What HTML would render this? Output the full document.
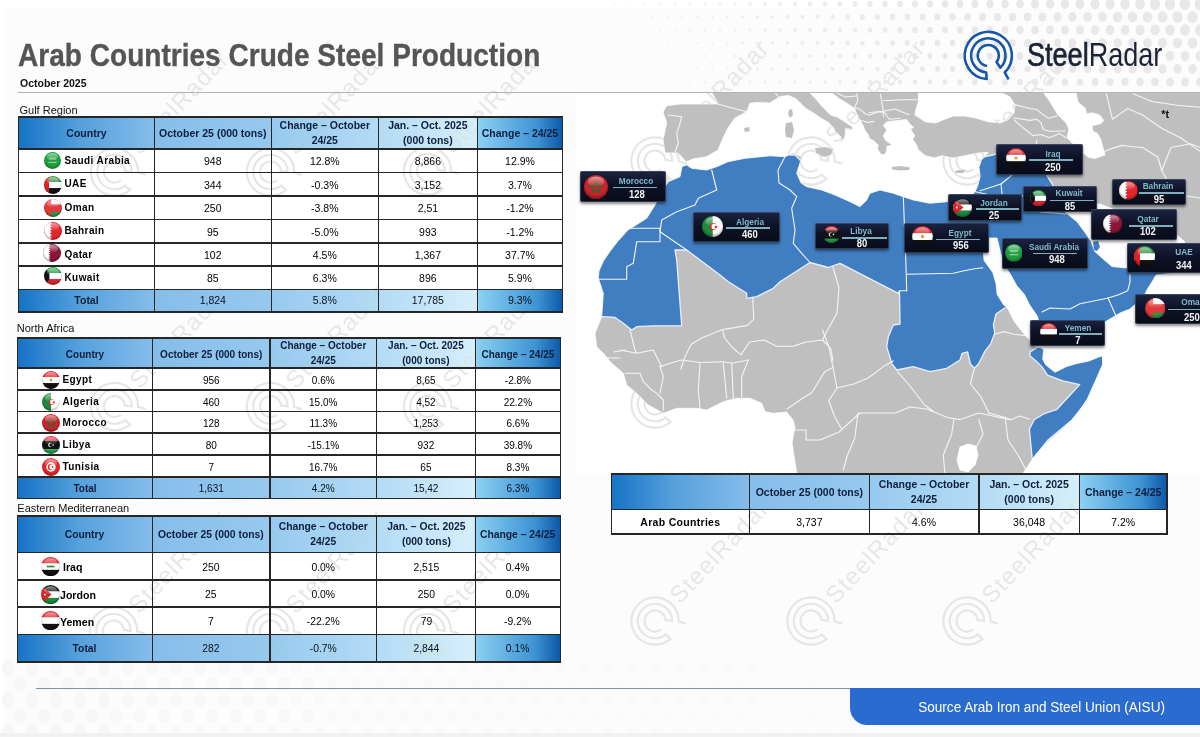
<!DOCTYPE html>
<html><head><meta charset="utf-8"><title>Arab Countries Crude Steel Production</title>
<style>
html,body{margin:0;padding:0}
body{width:1200px;height:737px;position:relative;overflow:hidden;background:#fff;font-family:"Liberation Sans", Arial, sans-serif}
.a{position:absolute}
.t{position:absolute;white-space:nowrap}
</style></head><body>
<svg width="0" height="0" style="position:absolute"><defs>
<radialGradient id="shade" cx="50%" cy="40%" r="60%"><stop offset="70%" stop-color="#000" stop-opacity="0"/><stop offset="100%" stop-color="#000" stop-opacity=".35"/></radialGradient>
<linearGradient id="gloss" x1="0" y1="0" x2="0" y2="1"><stop offset="0" stop-color="#fff" stop-opacity=".55"/><stop offset="1" stop-color="#fff" stop-opacity="0"/></linearGradient>
</defs></svg>
<div class="a" style="left:5px;top:8px;width:1195px;height:725px;background:#fcfcfc"></div>
<svg class="a" style="left:0;top:0;width:1200px;height:737px" viewBox="0 0 1200 737"><ellipse cx="570.0" cy="4.0" rx="0.63" ry="0.72" fill="#f6f6f6"/><ellipse cx="585.0" cy="4.0" rx="0.69" ry="0.80" fill="#f5f5f5"/><ellipse cx="600.0" cy="4.0" rx="0.77" ry="0.88" fill="#f5f5f5"/><ellipse cx="615.0" cy="4.0" rx="0.85" ry="0.98" fill="#f4f4f4"/><ellipse cx="630.0" cy="4.0" rx="0.94" ry="1.08" fill="#f4f4f4"/><ellipse cx="645.0" cy="4.0" rx="1.03" ry="1.18" fill="#f3f3f3"/><ellipse cx="660.0" cy="4.0" rx="1.12" ry="1.29" fill="#f2f2f2"/><ellipse cx="675.0" cy="4.0" rx="1.22" ry="1.40" fill="#f2f2f2"/><ellipse cx="690.0" cy="4.0" rx="1.32" ry="1.52" fill="#f1f1f1"/><ellipse cx="705.0" cy="4.0" rx="1.42" ry="1.64" fill="#f1f1f1"/><ellipse cx="720.0" cy="4.0" rx="1.53" ry="1.76" fill="#f0f0f0"/><ellipse cx="735.0" cy="4.0" rx="1.63" ry="1.88" fill="#f0f0f0"/><ellipse cx="750.0" cy="4.0" rx="1.74" ry="2.00" fill="#efefef"/><ellipse cx="765.0" cy="4.0" rx="1.85" ry="2.13" fill="#efefef"/><ellipse cx="780.0" cy="4.0" rx="1.96" ry="2.26" fill="#eeeeee"/><ellipse cx="795.0" cy="4.0" rx="2.08" ry="2.39" fill="#eeeeee"/><ellipse cx="810.0" cy="4.0" rx="2.19" ry="2.52" fill="#ededed"/><ellipse cx="825.0" cy="4.0" rx="2.31" ry="2.65" fill="#ededed"/><ellipse cx="840.0" cy="4.0" rx="2.42" ry="2.79" fill="#ececec"/><ellipse cx="855.0" cy="4.0" rx="2.54" ry="2.92" fill="#ececec"/><ellipse cx="870.0" cy="4.0" rx="2.66" ry="3.06" fill="#ebebeb"/><ellipse cx="885.0" cy="4.0" rx="2.78" ry="3.20" fill="#ebebeb"/><ellipse cx="900.0" cy="4.0" rx="2.90" ry="3.34" fill="#eaeaea"/><ellipse cx="915.0" cy="4.0" rx="3.03" ry="3.48" fill="#eaeaea"/><ellipse cx="930.0" cy="4.0" rx="3.15" ry="3.62" fill="#e9e9e9"/><ellipse cx="945.0" cy="4.0" rx="3.27" ry="3.76" fill="#e9e9e9"/><ellipse cx="960.0" cy="4.0" rx="3.40" ry="3.91" fill="#e8e8e8"/><ellipse cx="975.0" cy="4.0" rx="3.53" ry="4.06" fill="#e8e8e8"/><ellipse cx="990.0" cy="4.0" rx="3.65" ry="4.20" fill="#e8e8e8"/><ellipse cx="1005.0" cy="4.0" rx="3.78" ry="4.35" fill="#e8e8e8"/><ellipse cx="1020.0" cy="4.0" rx="3.91" ry="4.50" fill="#e8e8e8"/><ellipse cx="1035.0" cy="4.0" rx="4.04" ry="4.65" fill="#e8e8e8"/><ellipse cx="1050.0" cy="4.0" rx="4.17" ry="4.80" fill="#e8e8e8"/><ellipse cx="1065.0" cy="4.0" rx="4.31" ry="4.95" fill="#e8e8e8"/><ellipse cx="1080.0" cy="4.0" rx="4.44" ry="5.10" fill="#e8e8e8"/><ellipse cx="1095.0" cy="4.0" rx="4.57" ry="5.26" fill="#e8e8e8"/><ellipse cx="1110.0" cy="4.0" rx="4.71" ry="5.41" fill="#e8e8e8"/><ellipse cx="1125.0" cy="4.0" rx="4.84" ry="5.57" fill="#e8e8e8"/><ellipse cx="1140.0" cy="4.0" rx="4.98" ry="5.72" fill="#e8e8e8"/><ellipse cx="1155.0" cy="4.0" rx="5.11" ry="5.88" fill="#e8e8e8"/><ellipse cx="1170.0" cy="4.0" rx="5.25" ry="6.04" fill="#e8e8e8"/><ellipse cx="1185.0" cy="4.0" rx="5.39" ry="6.20" fill="#e8e8e8"/><ellipse cx="1200.0" cy="4.0" rx="5.53" ry="6.36" fill="#e8e8e8"/><ellipse cx="562.5" cy="17.0" rx="0.57" ry="0.66" fill="#f6f6f6"/><ellipse cx="577.5" cy="17.0" rx="0.63" ry="0.72" fill="#f5f5f5"/><ellipse cx="592.5" cy="17.0" rx="0.70" ry="0.80" fill="#f5f5f5"/><ellipse cx="607.5" cy="17.0" rx="0.78" ry="0.89" fill="#f4f4f4"/><ellipse cx="622.5" cy="17.0" rx="0.86" ry="0.98" fill="#f4f4f4"/><ellipse cx="637.5" cy="17.0" rx="0.94" ry="1.08" fill="#f3f3f3"/><ellipse cx="652.5" cy="17.0" rx="1.03" ry="1.18" fill="#f3f3f3"/><ellipse cx="667.5" cy="17.0" rx="1.12" ry="1.29" fill="#f2f2f2"/><ellipse cx="682.5" cy="17.0" rx="1.22" ry="1.40" fill="#f2f2f2"/><ellipse cx="697.5" cy="17.0" rx="1.31" ry="1.51" fill="#f1f1f1"/><ellipse cx="712.5" cy="17.0" rx="1.41" ry="1.62" fill="#f1f1f1"/><ellipse cx="727.5" cy="17.0" rx="1.51" ry="1.74" fill="#f0f0f0"/><ellipse cx="742.5" cy="17.0" rx="1.61" ry="1.86" fill="#f0f0f0"/><ellipse cx="757.5" cy="17.0" rx="1.72" ry="1.98" fill="#efefef"/><ellipse cx="772.5" cy="17.0" rx="1.82" ry="2.10" fill="#efefef"/><ellipse cx="787.5" cy="17.0" rx="1.93" ry="2.22" fill="#eeeeee"/><ellipse cx="802.5" cy="17.0" rx="2.04" ry="2.35" fill="#eeeeee"/><ellipse cx="817.5" cy="17.0" rx="2.15" ry="2.47" fill="#ededed"/><ellipse cx="832.5" cy="17.0" rx="2.26" ry="2.60" fill="#ececec"/><ellipse cx="847.5" cy="17.0" rx="2.37" ry="2.73" fill="#ececec"/><ellipse cx="862.5" cy="17.0" rx="2.49" ry="2.86" fill="#ebebeb"/><ellipse cx="877.5" cy="17.0" rx="2.60" ry="2.99" fill="#ebebeb"/><ellipse cx="892.5" cy="17.0" rx="2.72" ry="3.13" fill="#eaeaea"/><ellipse cx="907.5" cy="17.0" rx="2.84" ry="3.26" fill="#eaeaea"/><ellipse cx="922.5" cy="17.0" rx="2.95" ry="3.40" fill="#e9e9e9"/><ellipse cx="937.5" cy="17.0" rx="3.07" ry="3.53" fill="#e9e9e9"/><ellipse cx="952.5" cy="17.0" rx="3.19" ry="3.67" fill="#e8e8e8"/><ellipse cx="967.5" cy="17.0" rx="3.31" ry="3.81" fill="#e8e8e8"/><ellipse cx="982.5" cy="17.0" rx="3.44" ry="3.95" fill="#e8e8e8"/><ellipse cx="997.5" cy="17.0" rx="3.56" ry="4.09" fill="#e8e8e8"/><ellipse cx="1012.5" cy="17.0" rx="3.68" ry="4.23" fill="#e8e8e8"/><ellipse cx="1027.5" cy="17.0" rx="3.81" ry="4.38" fill="#e8e8e8"/><ellipse cx="1042.5" cy="17.0" rx="3.93" ry="4.52" fill="#e8e8e8"/><ellipse cx="1057.5" cy="17.0" rx="4.06" ry="4.67" fill="#e8e8e8"/><ellipse cx="1072.5" cy="17.0" rx="4.18" ry="4.81" fill="#e8e8e8"/><ellipse cx="1087.5" cy="17.0" rx="4.31" ry="4.96" fill="#e8e8e8"/><ellipse cx="1102.5" cy="17.0" rx="4.44" ry="5.11" fill="#e8e8e8"/><ellipse cx="1117.5" cy="17.0" rx="4.57" ry="5.25" fill="#e8e8e8"/><ellipse cx="1132.5" cy="17.0" rx="4.70" ry="5.40" fill="#e8e8e8"/><ellipse cx="1147.5" cy="17.0" rx="4.83" ry="5.55" fill="#e8e8e8"/><ellipse cx="1162.5" cy="17.0" rx="4.96" ry="5.70" fill="#e8e8e8"/><ellipse cx="1177.5" cy="17.0" rx="5.09" ry="5.85" fill="#e8e8e8"/><ellipse cx="1192.5" cy="17.0" rx="5.22" ry="6.01" fill="#e8e8e8"/><ellipse cx="570.0" cy="30.0" rx="0.57" ry="0.66" fill="#f6f6f6"/><ellipse cx="585.0" cy="30.0" rx="0.63" ry="0.73" fill="#f5f5f5"/><ellipse cx="600.0" cy="30.0" rx="0.70" ry="0.81" fill="#f5f5f5"/><ellipse cx="615.0" cy="30.0" rx="0.78" ry="0.90" fill="#f4f4f4"/><ellipse cx="630.0" cy="30.0" rx="0.86" ry="0.99" fill="#f4f4f4"/><ellipse cx="645.0" cy="30.0" rx="0.94" ry="1.08" fill="#f3f3f3"/><ellipse cx="660.0" cy="30.0" rx="1.03" ry="1.18" fill="#f2f2f2"/><ellipse cx="675.0" cy="30.0" rx="1.12" ry="1.28" fill="#f2f2f2"/><ellipse cx="690.0" cy="30.0" rx="1.21" ry="1.39" fill="#f1f1f1"/><ellipse cx="705.0" cy="30.0" rx="1.30" ry="1.50" fill="#f1f1f1"/><ellipse cx="720.0" cy="30.0" rx="1.40" ry="1.61" fill="#f0f0f0"/><ellipse cx="735.0" cy="30.0" rx="1.49" ry="1.72" fill="#f0f0f0"/><ellipse cx="750.0" cy="30.0" rx="1.59" ry="1.83" fill="#efefef"/><ellipse cx="765.0" cy="30.0" rx="1.69" ry="1.95" fill="#efefef"/><ellipse cx="780.0" cy="30.0" rx="1.79" ry="2.06" fill="#eeeeee"/><ellipse cx="795.0" cy="30.0" rx="1.90" ry="2.18" fill="#eeeeee"/><ellipse cx="810.0" cy="30.0" rx="2.00" ry="2.30" fill="#ededed"/><ellipse cx="825.0" cy="30.0" rx="2.11" ry="2.42" fill="#ededed"/><ellipse cx="840.0" cy="30.0" rx="2.21" ry="2.55" fill="#ececec"/><ellipse cx="855.0" cy="30.0" rx="2.32" ry="2.67" fill="#ececec"/><ellipse cx="870.0" cy="30.0" rx="2.43" ry="2.80" fill="#ebebeb"/><ellipse cx="885.0" cy="30.0" rx="2.54" ry="2.92" fill="#ebebeb"/><ellipse cx="900.0" cy="30.0" rx="2.65" ry="3.05" fill="#eaeaea"/><ellipse cx="915.0" cy="30.0" rx="2.77" ry="3.18" fill="#eaeaea"/><ellipse cx="930.0" cy="30.0" rx="2.88" ry="3.31" fill="#e9e9e9"/><ellipse cx="945.0" cy="30.0" rx="2.99" ry="3.44" fill="#e9e9e9"/><ellipse cx="960.0" cy="30.0" rx="3.11" ry="3.57" fill="#e8e8e8"/><ellipse cx="975.0" cy="30.0" rx="3.22" ry="3.71" fill="#e8e8e8"/><ellipse cx="990.0" cy="30.0" rx="3.34" ry="3.84" fill="#e8e8e8"/><ellipse cx="1005.0" cy="30.0" rx="3.46" ry="3.98" fill="#e8e8e8"/><ellipse cx="1020.0" cy="30.0" rx="3.58" ry="4.11" fill="#e8e8e8"/><ellipse cx="1035.0" cy="30.0" rx="3.70" ry="4.25" fill="#e8e8e8"/><ellipse cx="1050.0" cy="30.0" rx="3.82" ry="4.39" fill="#e8e8e8"/><ellipse cx="1065.0" cy="30.0" rx="3.94" ry="4.53" fill="#e8e8e8"/><ellipse cx="1080.0" cy="30.0" rx="4.06" ry="4.67" fill="#e8e8e8"/><ellipse cx="1095.0" cy="30.0" rx="4.18" ry="4.81" fill="#e8e8e8"/><ellipse cx="1110.0" cy="30.0" rx="4.30" ry="4.95" fill="#e8e8e8"/><ellipse cx="1125.0" cy="30.0" rx="4.43" ry="5.09" fill="#e8e8e8"/><ellipse cx="1140.0" cy="30.0" rx="4.55" ry="5.23" fill="#e8e8e8"/><ellipse cx="1155.0" cy="30.0" rx="4.67" ry="5.38" fill="#e8e8e8"/><ellipse cx="1170.0" cy="30.0" rx="4.80" ry="5.52" fill="#e8e8e8"/><ellipse cx="1185.0" cy="30.0" rx="4.93" ry="5.66" fill="#e8e8e8"/><ellipse cx="1200.0" cy="30.0" rx="5.05" ry="5.81" fill="#e8e8e8"/><ellipse cx="562.5" cy="43.0" rx="0.52" ry="0.60" fill="#f6f6f6"/><ellipse cx="577.5" cy="43.0" rx="0.57" ry="0.66" fill="#f5f5f5"/><ellipse cx="592.5" cy="43.0" rx="0.64" ry="0.73" fill="#f5f5f5"/><ellipse cx="607.5" cy="43.0" rx="0.71" ry="0.81" fill="#f4f4f4"/><ellipse cx="622.5" cy="43.0" rx="0.78" ry="0.90" fill="#f4f4f4"/><ellipse cx="637.5" cy="43.0" rx="0.86" ry="0.99" fill="#f3f3f3"/><ellipse cx="652.5" cy="43.0" rx="0.94" ry="1.08" fill="#f3f3f3"/><ellipse cx="667.5" cy="43.0" rx="1.02" ry="1.17" fill="#f2f2f2"/><ellipse cx="682.5" cy="43.0" rx="1.11" ry="1.27" fill="#f2f2f2"/><ellipse cx="697.5" cy="43.0" rx="1.19" ry="1.37" fill="#f1f1f1"/><ellipse cx="712.5" cy="43.0" rx="1.28" ry="1.48" fill="#f1f1f1"/><ellipse cx="727.5" cy="43.0" rx="1.38" ry="1.58" fill="#f0f0f0"/><ellipse cx="742.5" cy="43.0" rx="1.47" ry="1.69" fill="#f0f0f0"/><ellipse cx="757.5" cy="43.0" rx="1.56" ry="1.80" fill="#efefef"/><ellipse cx="772.5" cy="43.0" rx="1.66" ry="1.91" fill="#efefef"/><ellipse cx="787.5" cy="43.0" rx="1.76" ry="2.02" fill="#eeeeee"/><ellipse cx="802.5" cy="43.0" rx="1.86" ry="2.14" fill="#eeeeee"/><ellipse cx="817.5" cy="43.0" rx="1.96" ry="2.25" fill="#ededed"/><ellipse cx="832.5" cy="43.0" rx="2.06" ry="2.37" fill="#ececec"/><ellipse cx="847.5" cy="43.0" rx="2.16" ry="2.49" fill="#ececec"/><ellipse cx="862.5" cy="43.0" rx="2.26" ry="2.60" fill="#ebebeb"/><ellipse cx="877.5" cy="43.0" rx="2.37" ry="2.72" fill="#ebebeb"/><ellipse cx="892.5" cy="43.0" rx="2.48" ry="2.85" fill="#eaeaea"/><ellipse cx="907.5" cy="43.0" rx="2.58" ry="2.97" fill="#eaeaea"/><ellipse cx="922.5" cy="43.0" rx="2.69" ry="3.09" fill="#e9e9e9"/><ellipse cx="937.5" cy="43.0" rx="2.80" ry="3.22" fill="#e9e9e9"/><ellipse cx="952.5" cy="43.0" rx="2.91" ry="3.34" fill="#e8e8e8"/><ellipse cx="967.5" cy="43.0" rx="3.02" ry="3.47" fill="#e8e8e8"/><ellipse cx="982.5" cy="43.0" rx="3.13" ry="3.60" fill="#e8e8e8"/><ellipse cx="997.5" cy="43.0" rx="3.24" ry="3.73" fill="#e8e8e8"/><ellipse cx="1012.5" cy="43.0" rx="3.35" ry="3.85" fill="#e8e8e8"/><ellipse cx="1027.5" cy="43.0" rx="3.46" ry="3.98" fill="#e8e8e8"/><ellipse cx="1042.5" cy="43.0" rx="3.58" ry="4.12" fill="#e8e8e8"/><ellipse cx="1057.5" cy="43.0" rx="3.69" ry="4.25" fill="#e8e8e8"/><ellipse cx="1072.5" cy="43.0" rx="3.81" ry="4.38" fill="#e8e8e8"/><ellipse cx="1087.5" cy="43.0" rx="3.92" ry="4.51" fill="#e8e8e8"/><ellipse cx="1102.5" cy="43.0" rx="4.04" ry="4.65" fill="#e8e8e8"/><ellipse cx="1117.5" cy="43.0" rx="4.16" ry="4.78" fill="#e8e8e8"/><ellipse cx="1132.5" cy="43.0" rx="4.28" ry="4.92" fill="#e8e8e8"/><ellipse cx="1147.5" cy="43.0" rx="4.40" ry="5.05" fill="#e8e8e8"/><ellipse cx="1162.5" cy="43.0" rx="4.51" ry="5.19" fill="#e8e8e8"/><ellipse cx="1177.5" cy="43.0" rx="4.63" ry="5.33" fill="#e8e8e8"/><ellipse cx="1192.5" cy="43.0" rx="4.75" ry="5.47" fill="#e8e8e8"/><ellipse cx="570.0" cy="56.0" rx="0.52" ry="0.60" fill="#f6f6f6"/><ellipse cx="585.0" cy="56.0" rx="0.57" ry="0.66" fill="#f5f5f5"/><ellipse cx="600.0" cy="56.0" rx="0.64" ry="0.73" fill="#f5f5f5"/><ellipse cx="615.0" cy="56.0" rx="0.71" ry="0.81" fill="#f4f4f4"/><ellipse cx="630.0" cy="56.0" rx="0.78" ry="0.89" fill="#f4f4f4"/><ellipse cx="645.0" cy="56.0" rx="0.85" ry="0.98" fill="#f3f3f3"/><ellipse cx="660.0" cy="56.0" rx="0.93" ry="1.07" fill="#f2f2f2"/><ellipse cx="675.0" cy="56.0" rx="1.01" ry="1.16" fill="#f2f2f2"/><ellipse cx="690.0" cy="56.0" rx="1.09" ry="1.26" fill="#f1f1f1"/><ellipse cx="705.0" cy="56.0" rx="1.18" ry="1.36" fill="#f1f1f1"/><ellipse cx="720.0" cy="56.0" rx="1.26" ry="1.45" fill="#f0f0f0"/><ellipse cx="735.0" cy="56.0" rx="1.35" ry="1.56" fill="#f0f0f0"/><ellipse cx="750.0" cy="56.0" rx="1.44" ry="1.66" fill="#efefef"/><ellipse cx="765.0" cy="56.0" rx="1.53" ry="1.76" fill="#efefef"/><ellipse cx="780.0" cy="56.0" rx="1.63" ry="1.87" fill="#eeeeee"/><ellipse cx="795.0" cy="56.0" rx="1.72" ry="1.98" fill="#eeeeee"/><ellipse cx="810.0" cy="56.0" rx="1.81" ry="2.09" fill="#ededed"/><ellipse cx="825.0" cy="56.0" rx="1.91" ry="2.20" fill="#ededed"/><ellipse cx="840.0" cy="56.0" rx="2.01" ry="2.31" fill="#ececec"/><ellipse cx="855.0" cy="56.0" rx="2.10" ry="2.42" fill="#ececec"/><ellipse cx="870.0" cy="56.0" rx="2.20" ry="2.53" fill="#ebebeb"/><ellipse cx="885.0" cy="56.0" rx="2.30" ry="2.65" fill="#ebebeb"/><ellipse cx="900.0" cy="56.0" rx="2.40" ry="2.76" fill="#eaeaea"/><ellipse cx="915.0" cy="56.0" rx="2.51" ry="2.88" fill="#eaeaea"/><ellipse cx="930.0" cy="56.0" rx="2.61" ry="3.00" fill="#e9e9e9"/><ellipse cx="945.0" cy="56.0" rx="2.71" ry="3.12" fill="#e9e9e9"/><ellipse cx="960.0" cy="56.0" rx="2.82" ry="3.24" fill="#e8e8e8"/><ellipse cx="975.0" cy="56.0" rx="2.92" ry="3.36" fill="#e8e8e8"/><ellipse cx="990.0" cy="56.0" rx="3.03" ry="3.48" fill="#e8e8e8"/><ellipse cx="1005.0" cy="56.0" rx="3.13" ry="3.60" fill="#e8e8e8"/><ellipse cx="1020.0" cy="56.0" rx="3.24" ry="3.73" fill="#e8e8e8"/><ellipse cx="1035.0" cy="56.0" rx="3.35" ry="3.85" fill="#e8e8e8"/><ellipse cx="1050.0" cy="56.0" rx="3.46" ry="3.98" fill="#e8e8e8"/><ellipse cx="1065.0" cy="56.0" rx="3.57" ry="4.10" fill="#e8e8e8"/><ellipse cx="1080.0" cy="56.0" rx="3.68" ry="4.23" fill="#e8e8e8"/><ellipse cx="1095.0" cy="56.0" rx="3.79" ry="4.35" fill="#e8e8e8"/><ellipse cx="1110.0" cy="56.0" rx="3.90" ry="4.48" fill="#e8e8e8"/><ellipse cx="1125.0" cy="56.0" rx="4.01" ry="4.61" fill="#e8e8e8"/><ellipse cx="1140.0" cy="56.0" rx="4.12" ry="4.74" fill="#e8e8e8"/><ellipse cx="1155.0" cy="56.0" rx="4.24" ry="4.87" fill="#e8e8e8"/><ellipse cx="1170.0" cy="56.0" rx="4.35" ry="5.00" fill="#e8e8e8"/><ellipse cx="1185.0" cy="56.0" rx="4.46" ry="5.13" fill="#e8e8e8"/><ellipse cx="1200.0" cy="56.0" rx="4.58" ry="5.26" fill="#e8e8e8"/><ellipse cx="577.5" cy="69.0" rx="0.52" ry="0.59" fill="#f5f5f5"/><ellipse cx="592.5" cy="69.0" rx="0.57" ry="0.66" fill="#f5f5f5"/><ellipse cx="607.5" cy="69.0" rx="0.64" ry="0.73" fill="#f4f4f4"/><ellipse cx="622.5" cy="69.0" rx="0.70" ry="0.81" fill="#f4f4f4"/><ellipse cx="637.5" cy="69.0" rx="0.77" ry="0.89" fill="#f3f3f3"/><ellipse cx="652.5" cy="69.0" rx="0.85" ry="0.97" fill="#f3f3f3"/><ellipse cx="667.5" cy="69.0" rx="0.92" ry="1.06" fill="#f2f2f2"/><ellipse cx="682.5" cy="69.0" rx="1.00" ry="1.15" fill="#f2f2f2"/><ellipse cx="697.5" cy="69.0" rx="1.08" ry="1.24" fill="#f1f1f1"/><ellipse cx="712.5" cy="69.0" rx="1.16" ry="1.33" fill="#f1f1f1"/><ellipse cx="727.5" cy="69.0" rx="1.24" ry="1.43" fill="#f0f0f0"/><ellipse cx="742.5" cy="69.0" rx="1.32" ry="1.52" fill="#f0f0f0"/><ellipse cx="757.5" cy="69.0" rx="1.41" ry="1.62" fill="#efefef"/><ellipse cx="772.5" cy="69.0" rx="1.50" ry="1.72" fill="#efefef"/><ellipse cx="787.5" cy="69.0" rx="1.59" ry="1.82" fill="#eeeeee"/><ellipse cx="802.5" cy="69.0" rx="1.67" ry="1.93" fill="#eeeeee"/><ellipse cx="817.5" cy="69.0" rx="1.76" ry="2.03" fill="#ededed"/><ellipse cx="832.5" cy="69.0" rx="1.86" ry="2.13" fill="#ececec"/><ellipse cx="847.5" cy="69.0" rx="1.95" ry="2.24" fill="#ececec"/><ellipse cx="862.5" cy="69.0" rx="2.04" ry="2.35" fill="#ebebeb"/><ellipse cx="877.5" cy="69.0" rx="2.14" ry="2.46" fill="#ebebeb"/><ellipse cx="892.5" cy="69.0" rx="2.23" ry="2.57" fill="#eaeaea"/><ellipse cx="907.5" cy="69.0" rx="2.33" ry="2.68" fill="#eaeaea"/><ellipse cx="922.5" cy="69.0" rx="2.42" ry="2.79" fill="#e9e9e9"/><ellipse cx="937.5" cy="69.0" rx="2.52" ry="2.90" fill="#e9e9e9"/><ellipse cx="952.5" cy="69.0" rx="2.62" ry="3.01" fill="#e8e8e8"/><ellipse cx="967.5" cy="69.0" rx="2.72" ry="3.13" fill="#e8e8e8"/><ellipse cx="982.5" cy="69.0" rx="2.82" ry="3.24" fill="#e8e8e8"/><ellipse cx="997.5" cy="69.0" rx="2.92" ry="3.36" fill="#e8e8e8"/><ellipse cx="1012.5" cy="69.0" rx="3.02" ry="3.47" fill="#e8e8e8"/><ellipse cx="1027.5" cy="69.0" rx="3.12" ry="3.59" fill="#e8e8e8"/><ellipse cx="1042.5" cy="69.0" rx="3.23" ry="3.71" fill="#e8e8e8"/><ellipse cx="1057.5" cy="69.0" rx="3.33" ry="3.83" fill="#e8e8e8"/><ellipse cx="1072.5" cy="69.0" rx="3.43" ry="3.95" fill="#e8e8e8"/><ellipse cx="1087.5" cy="69.0" rx="3.54" ry="4.07" fill="#e8e8e8"/><ellipse cx="1102.5" cy="69.0" rx="3.64" ry="4.19" fill="#e8e8e8"/><ellipse cx="1117.5" cy="69.0" rx="3.75" ry="4.31" fill="#e8e8e8"/><ellipse cx="1132.5" cy="69.0" rx="3.85" ry="4.43" fill="#e8e8e8"/><ellipse cx="1147.5" cy="69.0" rx="3.96" ry="4.56" fill="#e8e8e8"/><ellipse cx="1162.5" cy="69.0" rx="4.07" ry="4.68" fill="#e8e8e8"/><ellipse cx="1177.5" cy="69.0" rx="4.18" ry="4.80" fill="#e8e8e8"/><ellipse cx="1192.5" cy="69.0" rx="4.29" ry="4.93" fill="#e8e8e8"/><ellipse cx="585.0" cy="82.0" rx="0.51" ry="0.59" fill="#f5f5f5"/><ellipse cx="600.0" cy="82.0" rx="0.57" ry="0.66" fill="#f5f5f5"/><ellipse cx="615.0" cy="82.0" rx="0.63" ry="0.73" fill="#f4f4f4"/><ellipse cx="630.0" cy="82.0" rx="0.70" ry="0.80" fill="#f4f4f4"/><ellipse cx="645.0" cy="82.0" rx="0.76" ry="0.88" fill="#f3f3f3"/><ellipse cx="660.0" cy="82.0" rx="0.83" ry="0.96" fill="#f2f2f2"/><ellipse cx="675.0" cy="82.0" rx="0.91" ry="1.04" fill="#f2f2f2"/><ellipse cx="690.0" cy="82.0" rx="0.98" ry="1.13" fill="#f1f1f1"/><ellipse cx="705.0" cy="82.0" rx="1.06" ry="1.21" fill="#f1f1f1"/><ellipse cx="720.0" cy="82.0" rx="1.13" ry="1.30" fill="#f0f0f0"/><ellipse cx="735.0" cy="82.0" rx="1.21" ry="1.39" fill="#f0f0f0"/><ellipse cx="750.0" cy="82.0" rx="1.29" ry="1.49" fill="#efefef"/><ellipse cx="765.0" cy="82.0" rx="1.37" ry="1.58" fill="#efefef"/><ellipse cx="780.0" cy="82.0" rx="1.46" ry="1.68" fill="#eeeeee"/><ellipse cx="795.0" cy="82.0" rx="1.54" ry="1.77" fill="#eeeeee"/><ellipse cx="810.0" cy="82.0" rx="1.63" ry="1.87" fill="#ededed"/><ellipse cx="825.0" cy="82.0" rx="1.71" ry="1.97" fill="#ededed"/><ellipse cx="840.0" cy="82.0" rx="1.80" ry="2.07" fill="#ececec"/><ellipse cx="855.0" cy="82.0" rx="1.89" ry="2.17" fill="#ececec"/><ellipse cx="870.0" cy="82.0" rx="1.97" ry="2.27" fill="#ebebeb"/><ellipse cx="885.0" cy="82.0" rx="2.06" ry="2.37" fill="#ebebeb"/><ellipse cx="900.0" cy="82.0" rx="2.15" ry="2.48" fill="#eaeaea"/><ellipse cx="915.0" cy="82.0" rx="2.25" ry="2.58" fill="#eaeaea"/><ellipse cx="930.0" cy="82.0" rx="2.34" ry="2.69" fill="#e9e9e9"/><ellipse cx="945.0" cy="82.0" rx="2.43" ry="2.79" fill="#e9e9e9"/><ellipse cx="960.0" cy="82.0" rx="2.52" ry="2.90" fill="#e8e8e8"/><ellipse cx="975.0" cy="82.0" rx="2.62" ry="3.01" fill="#e8e8e8"/><ellipse cx="990.0" cy="82.0" rx="2.71" ry="3.12" fill="#e8e8e8"/><ellipse cx="1005.0" cy="82.0" rx="2.81" ry="3.23" fill="#e8e8e8"/><ellipse cx="1020.0" cy="82.0" rx="2.90" ry="3.34" fill="#e8e8e8"/><ellipse cx="1035.0" cy="82.0" rx="3.00" ry="3.45" fill="#e8e8e8"/><ellipse cx="1050.0" cy="82.0" rx="3.10" ry="3.56" fill="#e8e8e8"/><ellipse cx="1065.0" cy="82.0" rx="3.20" ry="3.68" fill="#e8e8e8"/><ellipse cx="1080.0" cy="82.0" rx="3.29" ry="3.79" fill="#e8e8e8"/><ellipse cx="1095.0" cy="82.0" rx="3.39" ry="3.90" fill="#e8e8e8"/><ellipse cx="1110.0" cy="82.0" rx="3.49" ry="4.02" fill="#e8e8e8"/><ellipse cx="1125.0" cy="82.0" rx="3.59" ry="4.13" fill="#e8e8e8"/><ellipse cx="1140.0" cy="82.0" rx="3.69" ry="4.25" fill="#e8e8e8"/><ellipse cx="1155.0" cy="82.0" rx="3.80" ry="4.37" fill="#e8e8e8"/><ellipse cx="1170.0" cy="82.0" rx="3.90" ry="4.48" fill="#e8e8e8"/><ellipse cx="1185.0" cy="82.0" rx="4.00" ry="4.60" fill="#e8e8e8"/><ellipse cx="1200.0" cy="82.0" rx="4.10" ry="4.72" fill="#e8e8e8"/><ellipse cx="8.0" cy="668.0" rx="6.47" ry="7.77" fill="#f7f7f7"/><ellipse cx="32.0" cy="668.0" rx="6.39" ry="7.67" fill="#f7f7f7"/><ellipse cx="56.0" cy="668.0" rx="6.30" ry="7.57" fill="#f7f7f7"/><ellipse cx="80.0" cy="668.0" rx="6.22" ry="7.47" fill="#f7f7f7"/><ellipse cx="104.0" cy="668.0" rx="6.14" ry="7.36" fill="#f7f7f7"/><ellipse cx="128.0" cy="668.0" rx="6.05" ry="7.26" fill="#f8f8f8"/><ellipse cx="152.0" cy="668.0" rx="5.97" ry="7.16" fill="#f8f8f8"/><ellipse cx="176.0" cy="668.0" rx="5.89" ry="7.06" fill="#f8f8f8"/><ellipse cx="200.0" cy="668.0" rx="5.80" ry="6.96" fill="#f8f8f8"/><ellipse cx="224.0" cy="668.0" rx="5.72" ry="6.86" fill="#f8f8f8"/><ellipse cx="248.0" cy="668.0" rx="5.63" ry="6.76" fill="#f8f8f8"/><ellipse cx="272.0" cy="668.0" rx="5.55" ry="6.66" fill="#f8f8f8"/><ellipse cx="296.0" cy="668.0" rx="5.47" ry="6.56" fill="#f8f8f8"/><ellipse cx="320.0" cy="668.0" rx="5.38" ry="6.46" fill="#f8f8f8"/><ellipse cx="344.0" cy="668.0" rx="5.30" ry="6.36" fill="#f9f9f9"/><ellipse cx="368.0" cy="668.0" rx="5.22" ry="6.26" fill="#f9f9f9"/><ellipse cx="392.0" cy="668.0" rx="5.13" ry="6.16" fill="#f9f9f9"/><ellipse cx="416.0" cy="668.0" rx="5.05" ry="6.06" fill="#f9f9f9"/><ellipse cx="440.0" cy="668.0" rx="4.97" ry="5.96" fill="#f9f9f9"/><ellipse cx="464.0" cy="668.0" rx="4.88" ry="5.86" fill="#f9f9f9"/><ellipse cx="488.0" cy="668.0" rx="4.80" ry="5.76" fill="#f9f9f9"/><ellipse cx="512.0" cy="668.0" rx="4.71" ry="5.66" fill="#f9f9f9"/><ellipse cx="536.0" cy="668.0" rx="4.63" ry="5.56" fill="#f9f9f9"/><ellipse cx="560.0" cy="668.0" rx="4.55" ry="5.46" fill="#fafafa"/><ellipse cx="584.0" cy="668.0" rx="4.46" ry="5.36" fill="#fafafa"/><ellipse cx="608.0" cy="668.0" rx="4.38" ry="5.25" fill="#fafafa"/><ellipse cx="632.0" cy="668.0" rx="4.30" ry="5.15" fill="#fafafa"/><ellipse cx="656.0" cy="668.0" rx="4.21" ry="5.05" fill="#fafafa"/><ellipse cx="680.0" cy="668.0" rx="4.13" ry="4.95" fill="#fafafa"/><ellipse cx="704.0" cy="668.0" rx="4.04" ry="4.85" fill="#fafafa"/><ellipse cx="728.0" cy="668.0" rx="3.96" ry="4.75" fill="#fafafa"/><ellipse cx="752.0" cy="668.0" rx="3.88" ry="4.65" fill="#fafafa"/><ellipse cx="776.0" cy="668.0" rx="3.79" ry="4.55" fill="#fbfbfb"/><ellipse cx="800.0" cy="668.0" rx="3.71" ry="4.45" fill="#fbfbfb"/><ellipse cx="824.0" cy="668.0" rx="3.63" ry="4.35" fill="#fbfbfb"/><ellipse cx="848.0" cy="668.0" rx="3.54" ry="4.25" fill="#fbfbfb"/><ellipse cx="20.0" cy="684.0" rx="6.43" ry="7.72" fill="#f7f7f7"/><ellipse cx="44.0" cy="684.0" rx="6.35" ry="7.62" fill="#f7f7f7"/><ellipse cx="68.0" cy="684.0" rx="6.26" ry="7.52" fill="#f7f7f7"/><ellipse cx="92.0" cy="684.0" rx="6.18" ry="7.41" fill="#f7f7f7"/><ellipse cx="116.0" cy="684.0" rx="6.10" ry="7.31" fill="#f8f8f8"/><ellipse cx="140.0" cy="684.0" rx="6.01" ry="7.21" fill="#f8f8f8"/><ellipse cx="164.0" cy="684.0" rx="5.93" ry="7.11" fill="#f8f8f8"/><ellipse cx="188.0" cy="684.0" rx="5.84" ry="7.01" fill="#f8f8f8"/><ellipse cx="212.0" cy="684.0" rx="5.76" ry="6.91" fill="#f8f8f8"/><ellipse cx="236.0" cy="684.0" rx="5.68" ry="6.81" fill="#f8f8f8"/><ellipse cx="260.0" cy="684.0" rx="5.59" ry="6.71" fill="#f8f8f8"/><ellipse cx="284.0" cy="684.0" rx="5.51" ry="6.61" fill="#f8f8f8"/><ellipse cx="308.0" cy="684.0" rx="5.43" ry="6.51" fill="#f8f8f8"/><ellipse cx="332.0" cy="684.0" rx="5.34" ry="6.41" fill="#f9f9f9"/><ellipse cx="356.0" cy="684.0" rx="5.26" ry="6.31" fill="#f9f9f9"/><ellipse cx="380.0" cy="684.0" rx="5.17" ry="6.21" fill="#f9f9f9"/><ellipse cx="404.0" cy="684.0" rx="5.09" ry="6.11" fill="#f9f9f9"/><ellipse cx="428.0" cy="684.0" rx="5.01" ry="6.01" fill="#f9f9f9"/><ellipse cx="452.0" cy="684.0" rx="4.92" ry="5.91" fill="#f9f9f9"/><ellipse cx="476.0" cy="684.0" rx="4.84" ry="5.81" fill="#f9f9f9"/><ellipse cx="500.0" cy="684.0" rx="4.76" ry="5.71" fill="#f9f9f9"/><ellipse cx="524.0" cy="684.0" rx="4.67" ry="5.61" fill="#f9f9f9"/><ellipse cx="548.0" cy="684.0" rx="4.59" ry="5.51" fill="#fafafa"/><ellipse cx="572.0" cy="684.0" rx="4.50" ry="5.41" fill="#fafafa"/><ellipse cx="596.0" cy="684.0" rx="4.42" ry="5.31" fill="#fafafa"/><ellipse cx="620.0" cy="684.0" rx="4.34" ry="5.20" fill="#fafafa"/><ellipse cx="644.0" cy="684.0" rx="4.25" ry="5.10" fill="#fafafa"/><ellipse cx="668.0" cy="684.0" rx="4.17" ry="5.00" fill="#fafafa"/><ellipse cx="692.0" cy="684.0" rx="4.09" ry="4.90" fill="#fafafa"/><ellipse cx="716.0" cy="684.0" rx="4.00" ry="4.80" fill="#fafafa"/><ellipse cx="740.0" cy="684.0" rx="3.92" ry="4.70" fill="#fafafa"/><ellipse cx="764.0" cy="684.0" rx="3.83" ry="4.60" fill="#fbfbfb"/><ellipse cx="788.0" cy="684.0" rx="3.75" ry="4.50" fill="#fbfbfb"/><ellipse cx="812.0" cy="684.0" rx="3.67" ry="4.40" fill="#fbfbfb"/><ellipse cx="836.0" cy="684.0" rx="3.58" ry="4.30" fill="#fbfbfb"/><ellipse cx="8.0" cy="700.0" rx="6.47" ry="7.77" fill="#f7f7f7"/><ellipse cx="32.0" cy="700.0" rx="6.39" ry="7.67" fill="#f7f7f7"/><ellipse cx="56.0" cy="700.0" rx="6.30" ry="7.57" fill="#f7f7f7"/><ellipse cx="80.0" cy="700.0" rx="6.22" ry="7.47" fill="#f7f7f7"/><ellipse cx="104.0" cy="700.0" rx="6.14" ry="7.36" fill="#f7f7f7"/><ellipse cx="128.0" cy="700.0" rx="6.05" ry="7.26" fill="#f8f8f8"/><ellipse cx="152.0" cy="700.0" rx="5.97" ry="7.16" fill="#f8f8f8"/><ellipse cx="176.0" cy="700.0" rx="5.89" ry="7.06" fill="#f8f8f8"/><ellipse cx="200.0" cy="700.0" rx="5.80" ry="6.96" fill="#f8f8f8"/><ellipse cx="224.0" cy="700.0" rx="5.72" ry="6.86" fill="#f8f8f8"/><ellipse cx="248.0" cy="700.0" rx="5.63" ry="6.76" fill="#f8f8f8"/><ellipse cx="272.0" cy="700.0" rx="5.55" ry="6.66" fill="#f8f8f8"/><ellipse cx="296.0" cy="700.0" rx="5.47" ry="6.56" fill="#f8f8f8"/><ellipse cx="320.0" cy="700.0" rx="5.38" ry="6.46" fill="#f8f8f8"/><ellipse cx="344.0" cy="700.0" rx="5.30" ry="6.36" fill="#f9f9f9"/><ellipse cx="368.0" cy="700.0" rx="5.22" ry="6.26" fill="#f9f9f9"/><ellipse cx="392.0" cy="700.0" rx="5.13" ry="6.16" fill="#f9f9f9"/><ellipse cx="416.0" cy="700.0" rx="5.05" ry="6.06" fill="#f9f9f9"/><ellipse cx="440.0" cy="700.0" rx="4.97" ry="5.96" fill="#f9f9f9"/><ellipse cx="464.0" cy="700.0" rx="4.88" ry="5.86" fill="#f9f9f9"/><ellipse cx="488.0" cy="700.0" rx="4.80" ry="5.76" fill="#f9f9f9"/><ellipse cx="512.0" cy="700.0" rx="4.71" ry="5.66" fill="#f9f9f9"/><ellipse cx="536.0" cy="700.0" rx="4.63" ry="5.56" fill="#f9f9f9"/><ellipse cx="560.0" cy="700.0" rx="4.55" ry="5.46" fill="#fafafa"/><ellipse cx="584.0" cy="700.0" rx="4.46" ry="5.36" fill="#fafafa"/><ellipse cx="608.0" cy="700.0" rx="4.38" ry="5.25" fill="#fafafa"/><ellipse cx="632.0" cy="700.0" rx="4.30" ry="5.15" fill="#fafafa"/><ellipse cx="656.0" cy="700.0" rx="4.21" ry="5.05" fill="#fafafa"/><ellipse cx="680.0" cy="700.0" rx="4.13" ry="4.95" fill="#fafafa"/><ellipse cx="704.0" cy="700.0" rx="4.04" ry="4.85" fill="#fafafa"/><ellipse cx="728.0" cy="700.0" rx="3.96" ry="4.75" fill="#fafafa"/><ellipse cx="752.0" cy="700.0" rx="3.88" ry="4.65" fill="#fafafa"/><ellipse cx="776.0" cy="700.0" rx="3.79" ry="4.55" fill="#fbfbfb"/><ellipse cx="800.0" cy="700.0" rx="3.71" ry="4.45" fill="#fbfbfb"/><ellipse cx="824.0" cy="700.0" rx="3.63" ry="4.35" fill="#fbfbfb"/><ellipse cx="848.0" cy="700.0" rx="3.54" ry="4.25" fill="#fbfbfb"/><ellipse cx="20.0" cy="716.0" rx="6.43" ry="7.72" fill="#f7f7f7"/><ellipse cx="44.0" cy="716.0" rx="6.35" ry="7.62" fill="#f7f7f7"/><ellipse cx="68.0" cy="716.0" rx="6.26" ry="7.52" fill="#f7f7f7"/><ellipse cx="92.0" cy="716.0" rx="6.18" ry="7.41" fill="#f7f7f7"/><ellipse cx="116.0" cy="716.0" rx="6.10" ry="7.31" fill="#f8f8f8"/><ellipse cx="140.0" cy="716.0" rx="6.01" ry="7.21" fill="#f8f8f8"/><ellipse cx="164.0" cy="716.0" rx="5.93" ry="7.11" fill="#f8f8f8"/><ellipse cx="188.0" cy="716.0" rx="5.84" ry="7.01" fill="#f8f8f8"/><ellipse cx="212.0" cy="716.0" rx="5.76" ry="6.91" fill="#f8f8f8"/><ellipse cx="236.0" cy="716.0" rx="5.68" ry="6.81" fill="#f8f8f8"/><ellipse cx="260.0" cy="716.0" rx="5.59" ry="6.71" fill="#f8f8f8"/><ellipse cx="284.0" cy="716.0" rx="5.51" ry="6.61" fill="#f8f8f8"/><ellipse cx="308.0" cy="716.0" rx="5.43" ry="6.51" fill="#f8f8f8"/><ellipse cx="332.0" cy="716.0" rx="5.34" ry="6.41" fill="#f9f9f9"/><ellipse cx="356.0" cy="716.0" rx="5.26" ry="6.31" fill="#f9f9f9"/><ellipse cx="380.0" cy="716.0" rx="5.17" ry="6.21" fill="#f9f9f9"/><ellipse cx="404.0" cy="716.0" rx="5.09" ry="6.11" fill="#f9f9f9"/><ellipse cx="428.0" cy="716.0" rx="5.01" ry="6.01" fill="#f9f9f9"/><ellipse cx="452.0" cy="716.0" rx="4.92" ry="5.91" fill="#f9f9f9"/><ellipse cx="476.0" cy="716.0" rx="4.84" ry="5.81" fill="#f9f9f9"/><ellipse cx="500.0" cy="716.0" rx="4.76" ry="5.71" fill="#f9f9f9"/><ellipse cx="524.0" cy="716.0" rx="4.67" ry="5.61" fill="#f9f9f9"/><ellipse cx="548.0" cy="716.0" rx="4.59" ry="5.51" fill="#fafafa"/><ellipse cx="572.0" cy="716.0" rx="4.50" ry="5.41" fill="#fafafa"/><ellipse cx="596.0" cy="716.0" rx="4.42" ry="5.31" fill="#fafafa"/><ellipse cx="620.0" cy="716.0" rx="4.34" ry="5.20" fill="#fafafa"/><ellipse cx="644.0" cy="716.0" rx="4.25" ry="5.10" fill="#fafafa"/><ellipse cx="668.0" cy="716.0" rx="4.17" ry="5.00" fill="#fafafa"/><ellipse cx="692.0" cy="716.0" rx="4.09" ry="4.90" fill="#fafafa"/><ellipse cx="716.0" cy="716.0" rx="4.00" ry="4.80" fill="#fafafa"/><ellipse cx="740.0" cy="716.0" rx="3.92" ry="4.70" fill="#fafafa"/><ellipse cx="764.0" cy="716.0" rx="3.83" ry="4.60" fill="#fbfbfb"/><ellipse cx="788.0" cy="716.0" rx="3.75" ry="4.50" fill="#fbfbfb"/><ellipse cx="812.0" cy="716.0" rx="3.67" ry="4.40" fill="#fbfbfb"/><ellipse cx="836.0" cy="716.0" rx="3.58" ry="4.30" fill="#fbfbfb"/><ellipse cx="8.0" cy="732.0" rx="6.47" ry="7.77" fill="#f7f7f7"/><ellipse cx="32.0" cy="732.0" rx="6.39" ry="7.67" fill="#f7f7f7"/><ellipse cx="56.0" cy="732.0" rx="6.30" ry="7.57" fill="#f7f7f7"/><ellipse cx="80.0" cy="732.0" rx="6.22" ry="7.47" fill="#f7f7f7"/><ellipse cx="104.0" cy="732.0" rx="6.14" ry="7.36" fill="#f7f7f7"/><ellipse cx="128.0" cy="732.0" rx="6.05" ry="7.26" fill="#f8f8f8"/><ellipse cx="152.0" cy="732.0" rx="5.97" ry="7.16" fill="#f8f8f8"/><ellipse cx="176.0" cy="732.0" rx="5.89" ry="7.06" fill="#f8f8f8"/><ellipse cx="200.0" cy="732.0" rx="5.80" ry="6.96" fill="#f8f8f8"/><ellipse cx="224.0" cy="732.0" rx="5.72" ry="6.86" fill="#f8f8f8"/><ellipse cx="248.0" cy="732.0" rx="5.63" ry="6.76" fill="#f8f8f8"/><ellipse cx="272.0" cy="732.0" rx="5.55" ry="6.66" fill="#f8f8f8"/><ellipse cx="296.0" cy="732.0" rx="5.47" ry="6.56" fill="#f8f8f8"/><ellipse cx="320.0" cy="732.0" rx="5.38" ry="6.46" fill="#f8f8f8"/><ellipse cx="344.0" cy="732.0" rx="5.30" ry="6.36" fill="#f9f9f9"/><ellipse cx="368.0" cy="732.0" rx="5.22" ry="6.26" fill="#f9f9f9"/><ellipse cx="392.0" cy="732.0" rx="5.13" ry="6.16" fill="#f9f9f9"/><ellipse cx="416.0" cy="732.0" rx="5.05" ry="6.06" fill="#f9f9f9"/><ellipse cx="440.0" cy="732.0" rx="4.97" ry="5.96" fill="#f9f9f9"/><ellipse cx="464.0" cy="732.0" rx="4.88" ry="5.86" fill="#f9f9f9"/><ellipse cx="488.0" cy="732.0" rx="4.80" ry="5.76" fill="#f9f9f9"/><ellipse cx="512.0" cy="732.0" rx="4.71" ry="5.66" fill="#f9f9f9"/><ellipse cx="536.0" cy="732.0" rx="4.63" ry="5.56" fill="#f9f9f9"/><ellipse cx="560.0" cy="732.0" rx="4.55" ry="5.46" fill="#fafafa"/><ellipse cx="584.0" cy="732.0" rx="4.46" ry="5.36" fill="#fafafa"/><ellipse cx="608.0" cy="732.0" rx="4.38" ry="5.25" fill="#fafafa"/><ellipse cx="632.0" cy="732.0" rx="4.30" ry="5.15" fill="#fafafa"/><ellipse cx="656.0" cy="732.0" rx="4.21" ry="5.05" fill="#fafafa"/><ellipse cx="680.0" cy="732.0" rx="4.13" ry="4.95" fill="#fafafa"/><ellipse cx="704.0" cy="732.0" rx="4.04" ry="4.85" fill="#fafafa"/><ellipse cx="728.0" cy="732.0" rx="3.96" ry="4.75" fill="#fafafa"/><ellipse cx="752.0" cy="732.0" rx="3.88" ry="4.65" fill="#fafafa"/><ellipse cx="776.0" cy="732.0" rx="3.79" ry="4.55" fill="#fbfbfb"/><ellipse cx="800.0" cy="732.0" rx="3.71" ry="4.45" fill="#fbfbfb"/><ellipse cx="824.0" cy="732.0" rx="3.63" ry="4.35" fill="#fbfbfb"/><ellipse cx="848.0" cy="732.0" rx="3.54" ry="4.25" fill="#fbfbfb"/></svg>
<div class="t" style="left:18.3px;top:36.31px;width:700px;height:39.65px;line-height:39.65px;font-size:30.5px;font-weight:700;color:#555556;text-align:left;transform:scaleX(0.92);transform-origin:left center;-webkit-text-stroke:0.35px #555556;">Arab Countries Crude Steel Production</div>
<div class="t" style="left:20px;top:77.44px;width:200px;height:13.65px;line-height:13.65px;font-size:10.5px;font-weight:700;color:#111;text-align:left;">October 2025</div>
<div class="a" style="left:18px;top:91.5px;width:1182px;height:1px;background:#b4b4b4"></div>
<svg class="a" style="left:955px;top:22px;width:70px;height:66px" viewBox="955 22 70 66"><path d="M987.02 65.92 A10.5 10.5 0 1 1 996.46 62.11 L1000.46 67.66 A17.2 17.2 0 1 0 986.20 72.57 L986.65 79.04 A23.6 23.6 0 1 1 1004.69 72.48 L1008.60 79.40" fill="none" stroke="#1856a8" stroke-width="2.6" stroke-linejoin="round"/></svg>
<div class="t" style="left:1026.7px;top:34.12px;width:200px;height:42.9px;line-height:42.9px;font-size:33px;font-weight:400;color:#1b2436;text-align:left;transform:scaleX(0.82);transform-origin:left center;"><span style="-webkit-text-stroke:0.7px #1b2436">Steel</span>Radar</div>
<svg class="a" style="left:0;top:0;width:1200px;height:737px" viewBox="0 0 1200 737">
<defs><clipPath id="mapclip"><rect x="575" y="93" width="625" height="381"/></clipPath></defs>
<g clip-path="url(#mapclip)">
<rect x="575" y="92" width="625" height="383" fill="#bfbfbf"/>
<polygon points="585,160 686,164 700,164 720,160 760,154 795,155 805,165 840,175 880,185 900,190 940,195 972,188 979,158 996.6,154 1012,153 1028,151 1036,152 1042,162 1047,175.6 1053.6,186.5 1062,200 1069,213 1080,218 1110,228 1140,238 1170,245 1182,250 1200,258 1200,340 1110,350 1060,350 1040,346 1030,328 1016,306 1007,307 1004,308.5 996,314 993.4,324.8 994.8,333 990.7,343.8 985.3,350.6 978.5,364 974.4,368.2 970.4,364 967.6,352 962.2,353.3 960,360 946.7,368.3 930,371.7 913.3,366.7 896.7,370 891.7,363.3 886.7,346.7 888.3,336.7 893.3,325 900,324.2 899.5,291 898.3,293.3 840,263.3 828.3,267.5 810,262.5 780,281.7 773.3,288.3 756.7,296.7 746.7,298.3 746.7,293.3 728.3,281.7 720,275 686.7,250 675,250 676.7,260 681.7,325.8 653.3,325.8 636.7,326.7 631.7,330 623.3,323.3 615,317.5 601.7,316.7 585,316.7" fill="#407ec1" stroke="#e6f0fb" stroke-width="1.3" stroke-linejoin="round"/>
<polygon points="1030,352 1038,347 1060,349 1104,352 1106,362 1100,376 1088,400 1072,420 1048,440 1032.3,459.6 1029.4,429.2 1034.2,419.7 1043.7,414 1057,409.3 1068.3,397 1079.7,384.6 1062.7,380.8 1047.5,375.1 1041.8,366.6 1036,360.9 1030,356" fill="#407ec1" stroke="#e6f0fb" stroke-width="1.3" stroke-linejoin="round"/>
<g fill="none" stroke="#f2f6fb" stroke-width="1.1" stroke-linejoin="round" stroke-linecap="round">
<polyline points="711.7,170 716.7,190 698.3,198.3 695,205 676.7,211.7 661.7,220 660,231.7 686.7,250"/>
<polyline points="628.3,228.3 660,228.3 660,241.7 636.7,241.7 633.3,263.3 626.7,266.7 626.7,279.2 598.3,279.2"/>
<polyline points="785,156.7 778,170 779,183 790,190 796.7,196.7"/>
<polyline points="796.7,196.7 791.7,208.3 795,230 793.3,243.3 801.7,253.3 810,262.5"/>
<polyline points="903.3,196.7 905.8,260 906.7,290.8"/>
<polyline points="906.7,274.2 953.3,273.3 963,271 974.6,268.8 982.7,267.7"/>
<polyline points="899.2,290.8 906.7,290.8"/>
<polyline points="1042,312 1050,308 1070,309 1080,303.8 1107,298.3 1118,295 1127.7,290.7 1130,282 1130,274.5"/>
<polyline points="1108,298 1116,316"/>
<polyline points="974.6,191.5 990,195 1005,205 1030,192 1047,186"/>
<polyline points="980,190.7 1001,184 1009,177.5 1012,175"/>
<polyline points="1001,184 1002,194"/>
<polyline points="1040,212 1055,213 1066,214"/>
<polyline points="630,330 635,350 636.7,353.3"/>
<polyline points="620,350 636.7,353.3 653.3,350 658.3,360 661.7,366.7"/>
<polyline points="752.7,297.3 753.8,319.2 747.5,325.4 722.5,329.6 701.7,338 691.2,344.2 685,356.7 680.8,369"/>
<polyline points="722.5,329.6 724.6,338 733,348.3 741,354.6"/>
<polyline points="741,354.6 749.6,342 764,340 776.7,346.2 793.3,346.2 805.8,342 822.5,340 830.8,348.3 833,361"/>
<polyline points="660,366.7 670,363.3 681.7,360 700,362.5 723.3,361.7 731.7,363.3 748.3,360"/>
<polyline points="625,373.3 640,373.3 643.3,381.7 651.7,390 656.7,393.3 663.3,400 663.3,410"/>
<polyline points="700,363.3 698.3,390 700,408.3"/>
<polyline points="660,366.7 663.3,376.7 660,393.3"/>
<polyline points="723.3,363.3 726.7,398.3"/>
<polyline points="731.7,363.3 733.3,398.3"/>
<polyline points="748.3,360 741.7,376.7 741.7,396.7"/>
<polyline points="614,352 625,350"/>
<polyline points="605,358 620,358"/>
<polyline points="822.5,330 828.8,346.7 833,367.5 824.6,371.7 812,392.5 800,400 787,409"/>
<polyline points="837,388 853.8,384 868.3,378 885,365.4 893.3,361"/>
<polyline points="833,367.5 837,388 828.8,400.8 835,417.5 841,428"/>
<polyline points="860,413 876.7,413 895.4,413 910,407 926.7,409 947.5,417.5 960,419.6 978.8,413 1010,419.6"/>
<polyline points="897.5,371.7 910,386 924.6,405 933,411"/>
<polyline points="974.4,368.2 970.4,384 980.8,396.7 989,413"/>
<polyline points="953.8,419.6 951.7,434 943.3,455 945,475"/>
<polyline points="978.8,419.6 983,434 976.7,446.7"/>
<polyline points="793,430 806,430 806,440 820,440 839,432 860,413"/>
<polyline points="858,413 854.8,438 847.5,455 843.3,470"/>
<polyline points="989,413 1000,416 1011.4,419.7 1019,416 1029.5,419"/>
<polyline points="1005,417 1008,440 1018,455 1026,470"/>
<polyline points="833,267 839,288 837,313 826.7,331.7 822.5,340"/>
<polyline points="994.8,334.3 1004.3,331.6 1013.8,334.3 1026,335.6 1031,341"/>
<polyline points="668.3,115 681.7,116.7 680,123.3 676.7,133.3 678.3,143.3 675,151.7"/>
<polyline points="718.3,104.2 733.3,108.3 746.7,111.7"/>
<polyline points="775,92.5 778.3,96.7"/>
<polyline points="856.7,92.2 857.8,100.8 854.5,107.3 860,109.5 865.3,113.8 869.7,115 878.3,111.7 884.8,112.8 889.2,119.3 900,118.2"/>
<polyline points="880.5,94.3 882.7,107.3 883.8,117"/>
<polyline points="861,120.3 867.5,122.5 874,121.4"/>
<polyline points="869.3,112.5 883.3,111.3 895,109 909,114.8"/>
<polyline points="883.3,100.8 900.8,99.7 917,99.7"/>
<polyline points="836,92.5 845,97 856.7,96"/>
<polyline points="1002.6,101.5 1030,108.5 1036.5,109.5 1042,113.9 1048.5,118.2 1057,116"/>
<polyline points="1014,118 1030,120.4 1036.5,119.3 1041,122.6 1043,129 1048.5,131.3 1065,131"/>
<polyline points="1014,120 1023.7,128.3 1033,135.6 1041,134.5 1049.5,137.8 1059.3,133.4 1065.8,137.8"/>
<polyline points="1000,154.5 1012,153 1028,151 1036,146 1037,140"/>
<polyline points="1103,152 1111.4,148.6 1122.3,145.4 1130,146.5 1142.5,147.5 1157.8,157 1161.7,170.5"/>
<polyline points="1106,92 1112.5,119.3 1120,113.9 1127.7,108.5 1142.5,115 1161.7,128.3 1180.8,138 1200,151.3"/>
<polyline points="1133,93.8 1152,101.5 1177,105.3 1200,107.3"/>
<polyline points="1161.7,170.5 1171,147.5 1190.4,143.7 1200,147.5"/>
<polyline points="1161.7,170.5 1170,185 1180,195 1200,198"/>
</g>
<g fill="#fff" stroke="#fff" stroke-width="0.8" stroke-linejoin="round">
<polygon points="575,93 712,93 716,100 718,104 700,104 680,104 666.7,105.8 663,112 666.7,123 663,140 665,153 678,153 686,161.5 682,166.5 680,176.7 668.3,181.7 660,195 655,205 646.7,218.3 633.3,226.7 628,230 618,241 611,250 603.5,260.8 599,271 598.3,278.3 603.3,293.3 601.7,316.7 595,333.3 596.7,346.7 603.3,353.3 611.7,363.3 623.3,373.3 626.7,385 636.7,393.3 648.3,405 663.3,413.3 676.7,408.3 696.7,408.3 706.7,410 723.3,401.7 736.7,398.3 750,398.3 761.7,403.3 765,411.7 773.3,413.3 786.7,412 793,420 795,427 792,443 797,475 575,475"/>
<polygon points="686.7,161.7 693,159 706.7,156.7 718,150 723,138 728,128 735,118 746.7,111.7 750,103.3 756.7,102.5 770,103 776,99 780.8,96.5 788.4,95.4 796,98.7 800.3,103 805.8,108.4 813.3,112.8 821,118.2 828.5,122.5 832.8,126.8 835,131.2 839.3,135.5 841.5,137.7 840.4,141 837.2,145.3 844.8,137.7 845.8,128 853.4,130 852.3,126.8 845.8,122.5 837.2,117 830.7,115 822,106.3 815.5,98.7 811.2,94.3 810,92 830.7,92 839.3,98.7 848,104 854.5,108.4 856.7,113.8 860,120.3 863.2,125.8 865.3,131.2 867.5,133.3 869.7,138.8 874,141 878.3,145.3 877.3,148.5 880.5,154 884.8,155 886.8,150 886.8,146.3 892.7,145.2 885.7,140.5 883.3,135.8 886.8,130 883.3,125.3 886.8,121.8 906.7,119.5 909,123 913.7,127.7 910.2,128.8 914.8,135.8 912.5,139.3 916,144 918.3,149.8 925.3,155.7 934.7,158 941.7,155.7 953.3,158 965,155.7 976.7,153.3 988.3,152.2 981.3,160.3 979,167.3 980.2,176.7 977,188 972,196 965,200 946.7,201.7 930,203.3 913.3,200 903.3,196.7 893.3,193.3 880,190 870,193.3 866.7,200 860,206.7 850,201.7 835,195 821.7,190 806.7,186.7 801,183 796.7,173 800,163 801.7,156.7 793,153 785,156.7 770,155.8 745,158.3 728,161.7 716.7,166.7 706.7,170 691.7,168.3 686.7,165 682,166.5"/>
<polygon points="918.3,92 1000,92 1010,97 1015,105 1014,113 1008,120 1000,123 988.3,121.8 976.7,118.3 965,116 953.3,116 944,119.5 935.8,123 925.3,121.8 914.8,114.8 916,109 918.3,102"/>
<polygon points="1043,92 1076,92 1077.8,101.9 1085.4,108.5 1086.5,113.9 1091.9,112.8 1099.5,115 1103.8,120.4 1100.6,123.7 1091.9,125.8 1093,131.3 1097.3,133.4 1100.6,138.9 1103.8,150.8 1105,155 1095,158.4 1088.6,157.3 1080,150.8 1071.3,142 1067,137.8 1069,129 1065.8,122.6 1058,115 1049.5,100.9"/>
<polygon points="984,238 997,238 1001.5,256.3 1005.8,267.1 1011.3,275.8 1016.7,285.6 1024.3,294.3 1029.7,305.1 1037.3,316 1041,330 1041,343 1036,347 1031.4,341 1022,331.6 1013.8,320.7 1007,307 1003.7,305.1 997.1,294.3 996,283.4 992.8,272.6 984.1,260.6 983,248"/>
<polygon points="1065,212 1070,207 1085,204 1100,204 1120,212 1145,220 1170,228 1178,236 1185,242 1180,250 1165,255 1150,258 1135,262 1126,268 1112,266.5 1104,259.7 1094.8,251.5 1090.7,240.7 1085,232.5 1077,221.7"/>
<polygon points="1200,272 1175,273 1156,275 1152,282 1148,288 1145,294 1138,302 1130,309 1120,313 1105,322 1080,335 1050,341 1038,346 1043.7,349.5 1042.7,359 1045.6,364.7 1055,372.3 1066.5,366.6 1076,363.7 1089.2,360.9 1098.7,357 1102.5,356.1 1102.5,364.7 1095,381.8 1087.3,398.9 1076,416 1062.7,429.2 1049.4,440.6 1038,452 1032.3,459.6 1028,466 1024,472 1022,475 1200,475"/>
<polygon points="960,447 968,444 976,446 978,455 975,465 968,472 960,470 957,460"/>
</g>
<polygon points="815,148 825,147 833,149 831,155 824,157 816,153" fill="#bfbfbf"/>
<polygon points="786,123 792,122 794,130 792,138 786,137 785,130" fill="#bfbfbf"/>
<polygon points="789,110 792,109 793,115 790,118 788,114" fill="#bfbfbf"/>
<polygon points="892,167 900,166 910,167.5 909,170 900,170.5 892,169.5" fill="#bfbfbf"/>
<polygon points="955,171 962,169.5 966,170 963,173 956,173" fill="#bfbfbf"/>
<polygon points="744,128 749,127 750,131 745,132" fill="#bfbfbf"/>
<polygon points="1093,242 1098,241 1100,247 1097,251 1094,250" fill="#407ec1"/>
</g></svg>
<div class="a" style="left:579.5px;top:171.4px;width:86.8px;height:30.8px;border-radius:2px;background:linear-gradient(180deg,#1c2440 0%,#0d1226 45%,#080b18 100%);box-shadow:0 2px 3px rgba(0,0,0,.45), inset 0 0 0 1px rgba(120,140,170,.35)"></div>
<svg class="a" style="left:583.7px;top:174.6px;width:24px;height:24px" viewBox="0 0 100 100"><defs><clipPath id="cgma1"><circle cx="50" cy="50" r="50"/></clipPath></defs><g clip-path="url(#cgma1)"><rect width="100" height="100" fill="#c8242b"/><path d="M50 26L56 44H75L60 55L66 73L50 62L34 73L40 55L25 44H44Z" fill="none" stroke="#1f6e34" stroke-width="5"/><circle cx="50" cy="50" r="50" fill="url(#shade)"/><ellipse cx="50" cy="28" rx="34" ry="22" fill="url(#gloss)"/></g></svg>
<div class="t" style="left:576px;top:174.93px;width:120px;height:12.48px;line-height:12.48px;font-size:9.6px;font-weight:700;color:#80bacb;text-align:center;transform:scaleX(0.86);transform-origin:center center;">Morocco</div>
<div class="a" style="left:613px;top:186.7px;width:44px;height:1.6px;background:#7fafbd"></div>
<div class="t" style="left:597px;top:187.84px;width:80px;height:13.65px;line-height:13.65px;font-size:10.5px;font-weight:700;color:#f4f4f4;text-align:center;transform:scaleX(0.9);transform-origin:center center;">128</div>
<div class="a" style="left:693.2px;top:212.3px;width:86.4px;height:30.2px;border-radius:2px;background:linear-gradient(180deg,#1c2440 0%,#0d1226 45%,#080b18 100%);box-shadow:0 2px 3px rgba(0,0,0,.45), inset 0 0 0 1px rgba(120,140,170,.35)"></div>
<svg class="a" style="left:702.4px;top:216.4px;width:21.2px;height:21.2px" viewBox="0 0 100 100"><defs><clipPath id="cgdz2"><circle cx="50" cy="50" r="50"/></clipPath></defs><g clip-path="url(#cgdz2)"><rect width="50" height="100" fill="#1f8a3e"/><rect x="50" width="50" height="100" fill="#fff"/><circle cx="54" cy="50" r="17" fill="#d62a2a"/><circle cx="59" cy="50" r="14" fill="#fff"/><path d="M66 41L68.5 48H76L70 52.5L72.5 60L66 55.5L59.5 60L62 52.5L56 48H63.5Z" fill="#d62a2a"/><circle cx="50" cy="50" r="50" fill="url(#shade)"/><ellipse cx="50" cy="28" rx="34" ry="22" fill="url(#gloss)"/></g></svg>
<div class="t" style="left:689.7px;top:216.23px;width:120px;height:12.48px;line-height:12.48px;font-size:9.6px;font-weight:700;color:#80bacb;text-align:center;transform:scaleX(0.86);transform-origin:center center;">Algeria</div>
<div class="a" style="left:726px;top:227.2px;width:44px;height:1.6px;background:#7fafbd"></div>
<div class="t" style="left:709.7px;top:228.14px;width:80px;height:13.65px;line-height:13.65px;font-size:10.5px;font-weight:700;color:#f4f4f4;text-align:center;transform:scaleX(0.9);transform-origin:center center;">460</div>
<div class="a" style="left:814.5px;top:223px;width:74.3px;height:26.2px;border-radius:2px;background:linear-gradient(180deg,#1c2440 0%,#0d1226 45%,#080b18 100%);box-shadow:0 2px 3px rgba(0,0,0,.45), inset 0 0 0 1px rgba(120,140,170,.35)"></div>
<svg class="a" style="left:823.1px;top:226.4px;width:17px;height:17px" viewBox="0 0 100 100"><defs><clipPath id="cgly3"><circle cx="50" cy="50" r="50"/></clipPath></defs><g clip-path="url(#cgly3)"><rect width="100" height="26" fill="#e0202a"/><rect y="26" width="100" height="48" fill="#111"/><rect y="74" width="100" height="26" fill="#239e46"/><circle cx="46" cy="50" r="12" fill="#fff"/><circle cx="50" cy="50" r="10" fill="#111"/><circle cx="62" cy="50" r="4" fill="#fff"/><circle cx="50" cy="50" r="50" fill="url(#shade)"/><ellipse cx="50" cy="28" rx="34" ry="22" fill="url(#gloss)"/></g></svg>
<div class="t" style="left:801px;top:224.63px;width:120px;height:12.48px;line-height:12.48px;font-size:9.6px;font-weight:700;color:#80bacb;text-align:center;transform:scaleX(0.86);transform-origin:center center;">Libya</div>
<div class="a" style="left:841.7px;top:237.2px;width:44.9px;height:1.6px;background:#7fafbd"></div>
<div class="t" style="left:821.5px;top:236.84px;width:80px;height:13.65px;line-height:13.65px;font-size:10.5px;font-weight:700;color:#f4f4f4;text-align:center;transform:scaleX(0.9);transform-origin:center center;">80</div>
<div class="a" style="left:903.5px;top:223.1px;width:85.8px;height:29.7px;border-radius:2px;background:linear-gradient(180deg,#1c2440 0%,#0d1226 45%,#080b18 100%);box-shadow:0 2px 3px rgba(0,0,0,.45), inset 0 0 0 1px rgba(120,140,170,.35)"></div>
<svg class="a" style="left:912.4px;top:226.2px;width:21px;height:21px" viewBox="0 0 100 100"><defs><clipPath id="cgeg4"><circle cx="50" cy="50" r="50"/></clipPath></defs><g clip-path="url(#cgeg4)"><rect width="100" height="34" fill="#d9262b"/><rect y="34" width="100" height="33" fill="#fff"/><rect y="67" width="100" height="33" fill="#111"/><circle cx="50" cy="50" r="8" fill="#c9a233"/><circle cx="50" cy="50" r="50" fill="url(#shade)"/><ellipse cx="50" cy="28" rx="34" ry="22" fill="url(#gloss)"/></g></svg>
<div class="t" style="left:900px;top:226.83px;width:120px;height:12.48px;line-height:12.48px;font-size:9.6px;font-weight:700;color:#80bacb;text-align:center;transform:scaleX(0.86);transform-origin:center center;">Egypt</div>
<div class="a" style="left:936px;top:238.7px;width:44px;height:1.6px;background:#7fafbd"></div>
<div class="t" style="left:920.5px;top:239.34px;width:80px;height:13.65px;line-height:13.65px;font-size:10.5px;font-weight:700;color:#f4f4f4;text-align:center;transform:scaleX(0.9);transform-origin:center center;">956</div>
<div class="a" style="left:947.5px;top:193.8px;width:74.5px;height:27px;border-radius:2px;background:linear-gradient(180deg,#1c2440 0%,#0d1226 45%,#080b18 100%);box-shadow:0 2px 3px rgba(0,0,0,.45), inset 0 0 0 1px rgba(120,140,170,.35)"></div>
<svg class="a" style="left:953.2px;top:197.5px;width:19px;height:19px" viewBox="0 0 100 100"><defs><clipPath id="cgjo5"><circle cx="50" cy="50" r="50"/></clipPath></defs><g clip-path="url(#cgjo5)"><rect width="100" height="34" fill="#111"/><rect y="34" width="100" height="33" fill="#fff"/><rect y="67" width="100" height="33" fill="#1f8a3e"/><path d="M0 0L55 50L0 100Z" fill="#d62a2a"/><circle cx="20" cy="50" r="5" fill="#fff"/><circle cx="50" cy="50" r="50" fill="url(#shade)"/><ellipse cx="50" cy="28" rx="34" ry="22" fill="url(#gloss)"/></g></svg>
<div class="t" style="left:933.8px;top:196.63px;width:120px;height:12.48px;line-height:12.48px;font-size:9.6px;font-weight:700;color:#80bacb;text-align:center;transform:scaleX(0.86);transform-origin:center center;">Jordan</div>
<div class="a" style="left:975.5px;top:208.2px;width:43.5px;height:1.6px;background:#7fafbd"></div>
<div class="t" style="left:954.4px;top:208.74px;width:80px;height:13.65px;line-height:13.65px;font-size:10.5px;font-weight:700;color:#f4f4f4;text-align:center;transform:scaleX(0.9);transform-origin:center center;">25</div>
<div class="a" style="left:996.3px;top:143.8px;width:86.6px;height:30.8px;border-radius:2px;background:linear-gradient(180deg,#1c2440 0%,#0d1226 45%,#080b18 100%);box-shadow:0 2px 3px rgba(0,0,0,.45), inset 0 0 0 1px rgba(120,140,170,.35)"></div>
<svg class="a" style="left:1005.8px;top:147.5px;width:20px;height:20px" viewBox="0 0 100 100"><defs><clipPath id="cgeg6"><circle cx="50" cy="50" r="50"/></clipPath></defs><g clip-path="url(#cgeg6)"><rect width="100" height="34" fill="#d9262b"/><rect y="34" width="100" height="33" fill="#fff"/><rect y="67" width="100" height="33" fill="#111"/><circle cx="50" cy="50" r="8" fill="#c9a233"/><circle cx="50" cy="50" r="50" fill="url(#shade)"/><ellipse cx="50" cy="28" rx="34" ry="22" fill="url(#gloss)"/></g></svg>
<div class="t" style="left:992.5px;top:147.63px;width:120px;height:12.48px;line-height:12.48px;font-size:9.6px;font-weight:700;color:#80bacb;text-align:center;transform:scaleX(0.86);transform-origin:center center;">Iraq</div>
<div class="a" style="left:1029.2px;top:159.4px;width:44.1px;height:1.6px;background:#7fafbd"></div>
<div class="t" style="left:1012.5px;top:161.04px;width:80px;height:13.65px;line-height:13.65px;font-size:10.5px;font-weight:700;color:#f4f4f4;text-align:center;transform:scaleX(0.9);transform-origin:center center;">250</div>
<div class="a" style="left:1022.8px;top:185.7px;width:74.4px;height:26.2px;border-radius:2px;background:linear-gradient(180deg,#1c2440 0%,#0d1226 45%,#080b18 100%);box-shadow:0 2px 3px rgba(0,0,0,.45), inset 0 0 0 1px rgba(120,140,170,.35)"></div>
<svg class="a" style="left:1030.4px;top:190px;width:16.4px;height:16.4px" viewBox="0 0 100 100"><defs><clipPath id="cgkw7"><circle cx="50" cy="50" r="50"/></clipPath></defs><g clip-path="url(#cgkw7)"><rect width="100" height="34" fill="#1d9a3e"/><rect y="34" width="100" height="33" fill="#fff"/><rect y="67" width="100" height="33" fill="#d7262d"/><path d="M0 0L30 34V67L0 100Z" fill="#111"/><circle cx="50" cy="50" r="50" fill="url(#shade)"/><ellipse cx="50" cy="28" rx="34" ry="22" fill="url(#gloss)"/></g></svg>
<div class="t" style="left:1009.3px;top:187.23px;width:120px;height:12.48px;line-height:12.48px;font-size:9.6px;font-weight:700;color:#80bacb;text-align:center;transform:scaleX(0.86);transform-origin:center center;">Kuwait</div>
<div class="a" style="left:1050px;top:199.5px;width:44.4px;height:1.6px;background:#7fafbd"></div>
<div class="t" style="left:1029.6px;top:199.64px;width:80px;height:13.65px;line-height:13.65px;font-size:10.5px;font-weight:700;color:#f4f4f4;text-align:center;transform:scaleX(0.9);transform-origin:center center;">85</div>
<div class="a" style="left:1111.5px;top:178.9px;width:74.8px;height:26.1px;border-radius:2px;background:linear-gradient(180deg,#1c2440 0%,#0d1226 45%,#080b18 100%);box-shadow:0 2px 3px rgba(0,0,0,.45), inset 0 0 0 1px rgba(120,140,170,.35)"></div>
<svg class="a" style="left:1118.8px;top:181.1px;width:18.8px;height:18.8px" viewBox="0 0 100 100"><defs><clipPath id="cgbh8"><circle cx="50" cy="50" r="50"/></clipPath></defs><g clip-path="url(#cgbh8)"><rect width="100" height="100" fill="#e3262b"/><path d="M0 0H32L44 8 32 16 44 24 32 32 44 40 32 48 44 56 32 64 44 72 32 80 44 88 32 96 44 100H0Z" fill="#fff"/><circle cx="50" cy="50" r="50" fill="url(#shade)"/><ellipse cx="50" cy="28" rx="34" ry="22" fill="url(#gloss)"/></g></svg>
<div class="t" style="left:1098.1px;top:180.43px;width:120px;height:12.48px;line-height:12.48px;font-size:9.6px;font-weight:700;color:#80bacb;text-align:center;transform:scaleX(0.86);transform-origin:center center;">Bahrain</div>
<div class="a" style="left:1139.3px;top:192.3px;width:44.5px;height:1.6px;background:#7fafbd"></div>
<div class="t" style="left:1118.6px;top:192.54px;width:80px;height:13.65px;line-height:13.65px;font-size:10.5px;font-weight:700;color:#f4f4f4;text-align:center;transform:scaleX(0.9);transform-origin:center center;">95</div>
<div class="a" style="left:1090.7px;top:209px;width:86.7px;height:31px;border-radius:2px;background:linear-gradient(180deg,#1c2440 0%,#0d1226 45%,#080b18 100%);box-shadow:0 2px 3px rgba(0,0,0,.45), inset 0 0 0 1px rgba(120,140,170,.35)"></div>
<svg class="a" style="left:1103.2px;top:214.1px;width:19.4px;height:19.4px" viewBox="0 0 100 100"><defs><clipPath id="cgqa9"><circle cx="50" cy="50" r="50"/></clipPath></defs><g clip-path="url(#cgqa9)"><rect width="100" height="100" fill="#8a1538"/><path d="M0 0H30L42 6 30 12 42 18 30 24 42 30 30 36 42 42 30 48 42 54 30 60 42 66 30 72 42 78 30 84 42 90 30 96 42 100H0Z" fill="#fff"/><circle cx="50" cy="50" r="50" fill="url(#shade)"/><ellipse cx="50" cy="28" rx="34" ry="22" fill="url(#gloss)"/></g></svg>
<div class="t" style="left:1087.5px;top:213.33px;width:120px;height:12.48px;line-height:12.48px;font-size:9.6px;font-weight:700;color:#80bacb;text-align:center;transform:scaleX(0.86);transform-origin:center center;">Qatar</div>
<div class="a" style="left:1128.8px;top:225.2px;width:44.4px;height:1.6px;background:#7fafbd"></div>
<div class="t" style="left:1108.2px;top:225.34px;width:80px;height:13.65px;line-height:13.65px;font-size:10.5px;font-weight:700;color:#f4f4f4;text-align:center;transform:scaleX(0.9);transform-origin:center center;">102</div>
<div class="a" style="left:1001.8px;top:237.5px;width:86.3px;height:31.2px;border-radius:2px;background:linear-gradient(180deg,#1c2440 0%,#0d1226 45%,#080b18 100%);box-shadow:0 2px 3px rgba(0,0,0,.45), inset 0 0 0 1px rgba(120,140,170,.35)"></div>
<svg class="a" style="left:1004.5px;top:243.9px;width:17.8px;height:17.8px" viewBox="0 0 100 100"><defs><clipPath id="cgsa10"><circle cx="50" cy="50" r="50"/></clipPath></defs><g clip-path="url(#cgsa10)"><rect width="100" height="100" fill="#1f9d3f"/><rect x="28" y="32" width="44" height="14" rx="3" fill="#7fd08f" opacity=".8"/><rect x="26" y="58" width="48" height="5" fill="#bfe8c8"/><circle cx="50" cy="50" r="50" fill="url(#shade)"/><ellipse cx="50" cy="28" rx="34" ry="22" fill="url(#gloss)"/></g></svg>
<div class="t" style="left:993.6px;top:240.73px;width:120px;height:12.48px;line-height:12.48px;font-size:9.6px;font-weight:700;color:#80bacb;text-align:center;transform:scaleX(0.86);transform-origin:center center;">Saudi Arabia</div>
<div class="a" style="left:1032.6px;top:252.5px;width:44.4px;height:1.6px;background:#7fafbd"></div>
<div class="t" style="left:1016.8px;top:253.44px;width:80px;height:13.65px;line-height:13.65px;font-size:10.5px;font-weight:700;color:#f4f4f4;text-align:center;transform:scaleX(0.9);transform-origin:center center;">948</div>
<div class="a" style="left:1126.9px;top:242.6px;width:88.1px;height:30.7px;border-radius:2px;background:linear-gradient(180deg,#1c2440 0%,#0d1226 45%,#080b18 100%);box-shadow:0 2px 3px rgba(0,0,0,.45), inset 0 0 0 1px rgba(120,140,170,.35)"></div>
<svg class="a" style="left:1133.9px;top:245.7px;width:21.2px;height:21.2px" viewBox="0 0 100 100"><defs><clipPath id="cgae11"><circle cx="50" cy="50" r="50"/></clipPath></defs><g clip-path="url(#cgae11)"><rect width="100" height="34" fill="#2e8b3e"/><rect y="34" width="100" height="33" fill="#fff"/><rect y="67" width="100" height="33" fill="#111"/><rect width="28" height="100" fill="#e01e24"/><circle cx="50" cy="50" r="50" fill="url(#shade)"/><ellipse cx="50" cy="28" rx="34" ry="22" fill="url(#gloss)"/></g></svg>
<div class="t" style="left:1123.8px;top:245.83px;width:120px;height:12.48px;line-height:12.48px;font-size:9.6px;font-weight:700;color:#80bacb;text-align:center;transform:scaleX(0.86);transform-origin:center center;">UAE</div>
<div class="t" style="left:1143.8px;top:258.64px;width:80px;height:13.65px;line-height:13.65px;font-size:10.5px;font-weight:700;color:#f4f4f4;text-align:center;transform:scaleX(0.9);transform-origin:center center;">344</div>
<div class="a" style="left:1134.7px;top:294px;width:95.3px;height:29.7px;border-radius:2px;background:linear-gradient(180deg,#1c2440 0%,#0d1226 45%,#080b18 100%);box-shadow:0 2px 3px rgba(0,0,0,.45), inset 0 0 0 1px rgba(120,140,170,.35)"></div>
<svg class="a" style="left:1144.8px;top:298px;width:20.4px;height:20.4px" viewBox="0 0 100 100"><defs><clipPath id="cgom12"><circle cx="50" cy="50" r="50"/></clipPath></defs><g clip-path="url(#cgom12)"><rect width="100" height="100" fill="#e03a3a"/><rect x="40" y="0" width="60" height="30" fill="#f4f4f4"/><rect x="40" y="72" width="60" height="28" fill="#2a9a4a"/><circle cx="50" cy="50" r="50" fill="url(#shade)"/><ellipse cx="50" cy="28" rx="34" ry="22" fill="url(#gloss)"/></g></svg>
<div class="t" style="left:1132.5px;top:296.43px;width:120px;height:12.48px;line-height:12.48px;font-size:9.6px;font-weight:700;color:#80bacb;text-align:center;transform:scaleX(0.86);transform-origin:center center;">Oman</div>
<div class="a" style="left:1167.7px;top:308.7px;width:62.3px;height:1.6px;background:#7fafbd"></div>
<div class="t" style="left:1152px;top:310.54px;width:80px;height:13.65px;line-height:13.65px;font-size:10.5px;font-weight:700;color:#f4f4f4;text-align:center;transform:scaleX(0.9);transform-origin:center center;">250</div>
<div class="a" style="left:1030.2px;top:319.5px;width:75.3px;height:26.7px;border-radius:2px;background:linear-gradient(180deg,#1c2440 0%,#0d1226 45%,#080b18 100%);box-shadow:0 2px 3px rgba(0,0,0,.45), inset 0 0 0 1px rgba(120,140,170,.35)"></div>
<svg class="a" style="left:1040.1px;top:322.8px;width:17.4px;height:17.4px" viewBox="0 0 100 100"><defs><clipPath id="cgye13"><circle cx="50" cy="50" r="50"/></clipPath></defs><g clip-path="url(#cgye13)"><rect width="100" height="34" fill="#d9262b"/><rect y="34" width="100" height="33" fill="#fff"/><rect y="67" width="100" height="33" fill="#111"/><circle cx="50" cy="50" r="50" fill="url(#shade)"/><ellipse cx="50" cy="28" rx="34" ry="22" fill="url(#gloss)"/></g></svg>
<div class="t" style="left:1017.5px;top:321.63px;width:120px;height:12.48px;line-height:12.48px;font-size:9.6px;font-weight:700;color:#80bacb;text-align:center;transform:scaleX(0.86);transform-origin:center center;">Yemen</div>
<div class="a" style="left:1059.3px;top:333.4px;width:43.2px;height:1.6px;background:#7fafbd"></div>
<div class="t" style="left:1037.7px;top:333.74px;width:80px;height:13.65px;line-height:13.65px;font-size:10.5px;font-weight:700;color:#f4f4f4;text-align:center;transform:scaleX(0.9);transform-origin:center center;">7</div>
<div class="t" style="left:19.5px;top:102.74px;width:200px;height:14.3px;line-height:14.3px;font-size:11px;font-weight:400;color:#111;text-align:left;">Gulf Region</div>
<div class="t" style="left:16.8px;top:321.04px;width:200px;height:14.3px;line-height:14.3px;font-size:11px;font-weight:400;color:#111;text-align:left;">North Africa</div>
<div class="t" style="left:17.3px;top:501.04px;width:200px;height:14.3px;line-height:14.3px;font-size:11px;font-weight:400;color:#111;text-align:left;">Eastern Mediterranean</div>
<div class="a" style="left:18.7px;top:117.3px;width:543.9px;height:31.7px;background:linear-gradient(90deg, #1673c5 0%, #55a0dc 11.22%, #85bdea 24.93%, #97c9ef 46.44%, #b3dbf4 66.12%, #d6eefb 84.15%, #8bd0f3 84.52%, #3d93d3 95.3%, #0b58a8 100%)"></div>
<div class="a" style="left:18.7px;top:289.6px;width:543.9px;height:22.7px;background:linear-gradient(90deg, #1673c5 0%, #55a0dc 11.22%, #85bdea 24.93%, #97c9ef 46.44%, #b3dbf4 66.12%, #d6eefb 84.15%, #8bd0f3 84.52%, #3d93d3 95.3%, #0b58a8 100%)"></div>
<div class="a" style="left:18.7px;top:149px;width:543.9px;height:140.6px;background:#fff"></div>
<div class="a" style="left:17.95px;top:116.4px;width:545.4px;height:1.8px;background:#262626"></div>
<div class="a" style="left:17.95px;top:148.1px;width:545.4px;height:1.8px;background:#262626"></div>
<div class="a" style="left:17.95px;top:171.6px;width:545.4px;height:1.8px;background:#262626"></div>
<div class="a" style="left:17.95px;top:195.1px;width:545.4px;height:1.8px;background:#262626"></div>
<div class="a" style="left:17.95px;top:218.5px;width:545.4px;height:1.8px;background:#262626"></div>
<div class="a" style="left:17.95px;top:241.9px;width:545.4px;height:1.8px;background:#262626"></div>
<div class="a" style="left:17.95px;top:265.4px;width:545.4px;height:1.8px;background:#262626"></div>
<div class="a" style="left:17.95px;top:288.7px;width:545.4px;height:1.8px;background:#262626"></div>
<div class="a" style="left:17.95px;top:311.4px;width:545.4px;height:1.8px;background:#262626"></div>
<div class="a" style="left:17.95px;top:116.4px;width:1.5px;height:196.8px;background:#262626"></div>
<div class="a" style="left:153.55px;top:116.4px;width:1.5px;height:196.8px;background:#262626"></div>
<div class="a" style="left:270.55px;top:116.4px;width:1.5px;height:196.8px;background:#262626"></div>
<div class="a" style="left:377.55px;top:116.4px;width:1.5px;height:196.8px;background:#262626"></div>
<div class="a" style="left:476.65px;top:116.4px;width:1.5px;height:196.8px;background:#262626"></div>
<div class="a" style="left:561.85px;top:116.4px;width:1.5px;height:196.8px;background:#262626"></div>
<div class="t" style="left:8.7px;top:127.19px;width:155.6px;height:13.65px;line-height:13.65px;font-size:10.5px;font-weight:700;color:#0d1e3d;text-align:center;">Country</div>
<div class="t" style="left:144.3px;top:127.19px;width:137px;height:13.65px;line-height:13.65px;font-size:10.5px;font-weight:700;color:#0d1e3d;text-align:center;">October 25 (000 tons)</div>
<div class="t" style="left:261.3px;top:118.99px;width:127px;height:13.65px;line-height:13.65px;font-size:10.5px;font-weight:700;color:#0d1e3d;text-align:center;">Change – October</div>
<div class="t" style="left:261.3px;top:133.79px;width:127px;height:13.65px;line-height:13.65px;font-size:10.5px;font-weight:700;color:#0d1e3d;text-align:center;">24/25</div>
<div class="t" style="left:368.3px;top:118.99px;width:119.1px;height:13.65px;line-height:13.65px;font-size:10.5px;font-weight:700;color:#0d1e3d;text-align:center;">Jan. – Oct. 2025</div>
<div class="t" style="left:368.3px;top:133.79px;width:119.1px;height:13.65px;line-height:13.65px;font-size:10.5px;font-weight:700;color:#0d1e3d;text-align:center;">(000 tons)</div>
<div class="t" style="left:467.4px;top:127.19px;width:105.2px;height:13.65px;line-height:13.65px;font-size:10.5px;font-weight:700;color:#0d1e3d;text-align:center;">Change – 24/25</div>
<svg class="a" style="left:44px;top:152px;width:17px;height:17px" viewBox="0 0 100 100"><defs><clipPath id="cgsa14"><circle cx="50" cy="50" r="50"/></clipPath></defs><g clip-path="url(#cgsa14)"><rect width="100" height="100" fill="#1f9d3f"/><rect x="28" y="32" width="44" height="14" rx="3" fill="#7fd08f" opacity=".8"/><rect x="26" y="58" width="48" height="5" fill="#bfe8c8"/><circle cx="50" cy="50" r="50" fill="url(#shade)"/><ellipse cx="50" cy="28" rx="34" ry="22" fill="url(#gloss)"/></g></svg>
<div class="t" style="left:64.5px;top:153.78px;width:400px;height:13px;line-height:13px;font-size:10px;font-weight:700;color:#000;text-align:left;letter-spacing:0.4px;">Saudi Arabia</div>
<div class="t" style="left:154.3px;top:155.19px;width:117px;height:13.65px;line-height:13.65px;font-size:10.5px;font-weight:400;color:#000;text-align:center;">948</div>
<div class="t" style="left:271.3px;top:155.19px;width:107px;height:13.65px;line-height:13.65px;font-size:10.5px;font-weight:400;color:#000;text-align:center;">12.8%</div>
<div class="t" style="left:378.3px;top:155.19px;width:99.1px;height:13.65px;line-height:13.65px;font-size:10.5px;font-weight:400;color:#000;text-align:center;">8,866</div>
<div class="t" style="left:477.4px;top:155.19px;width:85.2px;height:13.65px;line-height:13.65px;font-size:10.5px;font-weight:400;color:#000;text-align:center;">12.9%</div>
<svg class="a" style="left:43.8px;top:175.5px;width:18px;height:18px" viewBox="0 0 100 100"><defs><clipPath id="cgae15"><circle cx="50" cy="50" r="50"/></clipPath></defs><g clip-path="url(#cgae15)"><rect width="100" height="34" fill="#2e8b3e"/><rect y="34" width="100" height="33" fill="#fff"/><rect y="67" width="100" height="33" fill="#111"/><rect width="28" height="100" fill="#e01e24"/><circle cx="50" cy="50" r="50" fill="url(#shade)"/><ellipse cx="50" cy="28" rx="34" ry="22" fill="url(#gloss)"/></g></svg>
<div class="t" style="left:64.5px;top:177.28px;width:400px;height:13px;line-height:13px;font-size:10px;font-weight:700;color:#000;text-align:left;letter-spacing:0.4px;">UAE</div>
<div class="t" style="left:154.3px;top:178.69px;width:117px;height:13.65px;line-height:13.65px;font-size:10.5px;font-weight:400;color:#000;text-align:center;">344</div>
<div class="t" style="left:271.3px;top:178.69px;width:107px;height:13.65px;line-height:13.65px;font-size:10.5px;font-weight:400;color:#000;text-align:center;">-0.3%</div>
<div class="t" style="left:378.3px;top:178.69px;width:99.1px;height:13.65px;line-height:13.65px;font-size:10.5px;font-weight:400;color:#000;text-align:center;">3,152</div>
<div class="t" style="left:477.4px;top:178.69px;width:85.2px;height:13.65px;line-height:13.65px;font-size:10.5px;font-weight:400;color:#000;text-align:center;">3.7%</div>
<svg class="a" style="left:43.8px;top:199px;width:18px;height:18px" viewBox="0 0 100 100"><defs><clipPath id="cgom16"><circle cx="50" cy="50" r="50"/></clipPath></defs><g clip-path="url(#cgom16)"><rect width="100" height="100" fill="#e03a3a"/><rect x="40" y="0" width="60" height="30" fill="#f4f4f4"/><rect x="40" y="72" width="60" height="28" fill="#2a9a4a"/><circle cx="50" cy="50" r="50" fill="url(#shade)"/><ellipse cx="50" cy="28" rx="34" ry="22" fill="url(#gloss)"/></g></svg>
<div class="t" style="left:64.5px;top:200.73px;width:400px;height:13px;line-height:13px;font-size:10px;font-weight:700;color:#000;text-align:left;letter-spacing:0.4px;">Oman</div>
<div class="t" style="left:154.3px;top:202.14px;width:117px;height:13.65px;line-height:13.65px;font-size:10.5px;font-weight:400;color:#000;text-align:center;">250</div>
<div class="t" style="left:271.3px;top:202.14px;width:107px;height:13.65px;line-height:13.65px;font-size:10.5px;font-weight:400;color:#000;text-align:center;">-3.8%</div>
<div class="t" style="left:378.3px;top:202.14px;width:99.1px;height:13.65px;line-height:13.65px;font-size:10.5px;font-weight:400;color:#000;text-align:center;">2,51</div>
<div class="t" style="left:477.4px;top:202.14px;width:85.2px;height:13.65px;line-height:13.65px;font-size:10.5px;font-weight:400;color:#000;text-align:center;">-1.2%</div>
<svg class="a" style="left:43.8px;top:222.3px;width:18px;height:18px" viewBox="0 0 100 100"><defs><clipPath id="cgbh17"><circle cx="50" cy="50" r="50"/></clipPath></defs><g clip-path="url(#cgbh17)"><rect width="100" height="100" fill="#e3262b"/><path d="M0 0H32L44 8 32 16 44 24 32 32 44 40 32 48 44 56 32 64 44 72 32 80 44 88 32 96 44 100H0Z" fill="#fff"/><circle cx="50" cy="50" r="50" fill="url(#shade)"/><ellipse cx="50" cy="28" rx="34" ry="22" fill="url(#gloss)"/></g></svg>
<div class="t" style="left:64.5px;top:224.14px;width:400px;height:13px;line-height:13px;font-size:10px;font-weight:700;color:#000;text-align:left;letter-spacing:0.4px;">Bahrain</div>
<div class="t" style="left:154.3px;top:225.54px;width:117px;height:13.65px;line-height:13.65px;font-size:10.5px;font-weight:400;color:#000;text-align:center;">95</div>
<div class="t" style="left:271.3px;top:225.54px;width:107px;height:13.65px;line-height:13.65px;font-size:10.5px;font-weight:400;color:#000;text-align:center;">-5.0%</div>
<div class="t" style="left:378.3px;top:225.54px;width:99.1px;height:13.65px;line-height:13.65px;font-size:10.5px;font-weight:400;color:#000;text-align:center;">993</div>
<div class="t" style="left:477.4px;top:225.54px;width:85.2px;height:13.65px;line-height:13.65px;font-size:10.5px;font-weight:400;color:#000;text-align:center;">-1.2%</div>
<svg class="a" style="left:42.5px;top:243.8px;width:18px;height:18px" viewBox="0 0 100 100"><defs><clipPath id="cgqa18"><circle cx="50" cy="50" r="50"/></clipPath></defs><g clip-path="url(#cgqa18)"><rect width="100" height="100" fill="#8a1538"/><path d="M0 0H30L42 6 30 12 42 18 30 24 42 30 30 36 42 42 30 48 42 54 30 60 42 66 30 72 42 78 30 84 42 90 30 96 42 100H0Z" fill="#fff"/><circle cx="50" cy="50" r="50" fill="url(#shade)"/><ellipse cx="50" cy="28" rx="34" ry="22" fill="url(#gloss)"/></g></svg>
<div class="t" style="left:64.5px;top:247.59px;width:400px;height:13px;line-height:13px;font-size:10px;font-weight:700;color:#000;text-align:left;letter-spacing:0.4px;">Qatar</div>
<div class="t" style="left:154.3px;top:248.99px;width:117px;height:13.65px;line-height:13.65px;font-size:10.5px;font-weight:400;color:#000;text-align:center;">102</div>
<div class="t" style="left:271.3px;top:248.99px;width:107px;height:13.65px;line-height:13.65px;font-size:10.5px;font-weight:400;color:#000;text-align:center;">4.5%</div>
<div class="t" style="left:378.3px;top:248.99px;width:99.1px;height:13.65px;line-height:13.65px;font-size:10.5px;font-weight:400;color:#000;text-align:center;">1,367</div>
<div class="t" style="left:477.4px;top:248.99px;width:85.2px;height:13.65px;line-height:13.65px;font-size:10.5px;font-weight:400;color:#000;text-align:center;">37.7%</div>
<svg class="a" style="left:43.8px;top:267px;width:18px;height:18px" viewBox="0 0 100 100"><defs><clipPath id="cgkw19"><circle cx="50" cy="50" r="50"/></clipPath></defs><g clip-path="url(#cgkw19)"><rect width="100" height="34" fill="#1d9a3e"/><rect y="34" width="100" height="33" fill="#fff"/><rect y="67" width="100" height="33" fill="#d7262d"/><path d="M0 0L30 34V67L0 100Z" fill="#111"/><circle cx="50" cy="50" r="50" fill="url(#shade)"/><ellipse cx="50" cy="28" rx="34" ry="22" fill="url(#gloss)"/></g></svg>
<div class="t" style="left:64.5px;top:270.99px;width:400px;height:13px;line-height:13px;font-size:10px;font-weight:700;color:#000;text-align:left;letter-spacing:0.4px;">Kuwait</div>
<div class="t" style="left:154.3px;top:272.39px;width:117px;height:13.65px;line-height:13.65px;font-size:10.5px;font-weight:400;color:#000;text-align:center;">85</div>
<div class="t" style="left:271.3px;top:272.39px;width:107px;height:13.65px;line-height:13.65px;font-size:10.5px;font-weight:400;color:#000;text-align:center;">6.3%</div>
<div class="t" style="left:378.3px;top:272.39px;width:99.1px;height:13.65px;line-height:13.65px;font-size:10.5px;font-weight:400;color:#000;text-align:center;">896</div>
<div class="t" style="left:477.4px;top:272.39px;width:85.2px;height:13.65px;line-height:13.65px;font-size:10.5px;font-weight:400;color:#000;text-align:center;">5.9%</div>
<div class="t" style="left:18.7px;top:294.29px;width:135.6px;height:13.65px;line-height:13.65px;font-size:10.5px;font-weight:700;color:#0d1e3d;text-align:center;">Total</div>
<div class="t" style="left:154.3px;top:294.39px;width:117px;height:13.65px;line-height:13.65px;font-size:10.5px;font-weight:400;color:#0a0f1e;text-align:center;">1,824</div>
<div class="t" style="left:271.3px;top:294.39px;width:107px;height:13.65px;line-height:13.65px;font-size:10.5px;font-weight:400;color:#0a0f1e;text-align:center;">5.8%</div>
<div class="t" style="left:378.3px;top:294.39px;width:99.1px;height:13.65px;line-height:13.65px;font-size:10.5px;font-weight:400;color:#0a0f1e;text-align:center;">17,785</div>
<div class="t" style="left:477.4px;top:294.39px;width:85.2px;height:13.65px;line-height:13.65px;font-size:10.5px;font-weight:400;color:#0a0f1e;text-align:center;">9.3%</div>
<div class="a" style="left:17.5px;top:337.8px;width:543px;height:30.4px;background:linear-gradient(90deg, #1673c5 0%, #55a0dc 11.19%, #85bdea 24.86%, #97c9ef 46.5%, #b3dbf4 66.11%, #d6eefb 84.13%, #8bd0f3 84.49%, #3d93d3 95.29%, #0b58a8 100%)"></div>
<div class="a" style="left:17.5px;top:477.2px;width:543px;height:21.4px;background:linear-gradient(90deg, #1673c5 0%, #55a0dc 11.19%, #85bdea 24.86%, #97c9ef 46.5%, #b3dbf4 66.11%, #d6eefb 84.13%, #8bd0f3 84.49%, #3d93d3 95.29%, #0b58a8 100%)"></div>
<div class="a" style="left:17.5px;top:368.2px;width:543px;height:109px;background:#fff"></div>
<div class="a" style="left:16.75px;top:336.9px;width:544.5px;height:1.8px;background:#262626"></div>
<div class="a" style="left:16.75px;top:367.3px;width:544.5px;height:1.8px;background:#262626"></div>
<div class="a" style="left:16.75px;top:389.1px;width:544.5px;height:1.8px;background:#262626"></div>
<div class="a" style="left:16.75px;top:410.5px;width:544.5px;height:1.8px;background:#262626"></div>
<div class="a" style="left:16.75px;top:432.2px;width:544.5px;height:1.8px;background:#262626"></div>
<div class="a" style="left:16.75px;top:454.4px;width:544.5px;height:1.8px;background:#262626"></div>
<div class="a" style="left:16.75px;top:476.3px;width:544.5px;height:1.8px;background:#262626"></div>
<div class="a" style="left:16.75px;top:497.7px;width:544.5px;height:1.8px;background:#262626"></div>
<div class="a" style="left:16.75px;top:336.9px;width:1.5px;height:162.6px;background:#262626"></div>
<div class="a" style="left:151.75px;top:336.9px;width:1.5px;height:162.6px;background:#262626"></div>
<div class="a" style="left:269.25px;top:336.9px;width:1.5px;height:162.6px;background:#262626"></div>
<div class="a" style="left:375.75px;top:336.9px;width:1.5px;height:162.6px;background:#262626"></div>
<div class="a" style="left:474.55px;top:336.9px;width:1.5px;height:162.6px;background:#262626"></div>
<div class="a" style="left:559.75px;top:336.9px;width:1.5px;height:162.6px;background:#262626"></div>
<div class="t" style="left:7.5px;top:347.54px;width:155px;height:13px;line-height:13px;font-size:10px;font-weight:700;color:#0d1e3d;text-align:center;">Country</div>
<div class="t" style="left:142.5px;top:347.54px;width:137.5px;height:13px;line-height:13px;font-size:10px;font-weight:700;color:#0d1e3d;text-align:center;">October 25 (000 tons)</div>
<div class="t" style="left:260px;top:339.34px;width:126.5px;height:13px;line-height:13px;font-size:10px;font-weight:700;color:#0d1e3d;text-align:center;">Change – October</div>
<div class="t" style="left:260px;top:354.13px;width:126.5px;height:13px;line-height:13px;font-size:10px;font-weight:700;color:#0d1e3d;text-align:center;">24/25</div>
<div class="t" style="left:366.5px;top:339.34px;width:118.8px;height:13px;line-height:13px;font-size:10px;font-weight:700;color:#0d1e3d;text-align:center;">Jan. – Oct. 2025</div>
<div class="t" style="left:366.5px;top:354.13px;width:118.8px;height:13px;line-height:13px;font-size:10px;font-weight:700;color:#0d1e3d;text-align:center;">(000 tons)</div>
<div class="t" style="left:465.3px;top:347.54px;width:105.2px;height:13px;line-height:13px;font-size:10px;font-weight:700;color:#0d1e3d;text-align:center;">Change – 24/25</div>
<svg class="a" style="left:42px;top:371px;width:18px;height:18px" viewBox="0 0 100 100"><defs><clipPath id="cgeg20"><circle cx="50" cy="50" r="50"/></clipPath></defs><g clip-path="url(#cgeg20)"><rect width="100" height="34" fill="#d9262b"/><rect y="34" width="100" height="33" fill="#fff"/><rect y="67" width="100" height="33" fill="#111"/><circle cx="50" cy="50" r="8" fill="#c9a233"/><circle cx="50" cy="50" r="50" fill="url(#shade)"/><ellipse cx="50" cy="28" rx="34" ry="22" fill="url(#gloss)"/></g></svg>
<div class="t" style="left:62.5px;top:372.94px;width:400px;height:13px;line-height:13px;font-size:10px;font-weight:700;color:#000;text-align:left;letter-spacing:0.4px;">Egypt</div>
<div class="t" style="left:152.5px;top:374.04px;width:117.5px;height:13px;line-height:13px;font-size:10px;font-weight:400;color:#000;text-align:center;">956</div>
<div class="t" style="left:270px;top:374.04px;width:106.5px;height:13px;line-height:13px;font-size:10px;font-weight:400;color:#000;text-align:center;">0.6%</div>
<div class="t" style="left:376.5px;top:374.04px;width:98.8px;height:13px;line-height:13px;font-size:10px;font-weight:400;color:#000;text-align:center;">8,65</div>
<div class="t" style="left:475.3px;top:374.04px;width:85.2px;height:13px;line-height:13px;font-size:10px;font-weight:400;color:#000;text-align:center;">-2.8%</div>
<svg class="a" style="left:41.5px;top:392.5px;width:18px;height:18px" viewBox="0 0 100 100"><defs><clipPath id="cgdz21"><circle cx="50" cy="50" r="50"/></clipPath></defs><g clip-path="url(#cgdz21)"><rect width="50" height="100" fill="#1f8a3e"/><rect x="50" width="50" height="100" fill="#fff"/><circle cx="54" cy="50" r="17" fill="#d62a2a"/><circle cx="59" cy="50" r="14" fill="#fff"/><path d="M66 41L68.5 48H76L70 52.5L72.5 60L66 55.5L59.5 60L62 52.5L56 48H63.5Z" fill="#d62a2a"/><circle cx="50" cy="50" r="50" fill="url(#shade)"/><ellipse cx="50" cy="28" rx="34" ry="22" fill="url(#gloss)"/></g></svg>
<div class="t" style="left:62.5px;top:394.54px;width:400px;height:13px;line-height:13px;font-size:10px;font-weight:700;color:#000;text-align:left;letter-spacing:0.4px;">Algeria</div>
<div class="t" style="left:152.5px;top:395.63px;width:117.5px;height:13px;line-height:13px;font-size:10px;font-weight:400;color:#000;text-align:center;">460</div>
<div class="t" style="left:270px;top:395.63px;width:106.5px;height:13px;line-height:13px;font-size:10px;font-weight:400;color:#000;text-align:center;">15.0%</div>
<div class="t" style="left:376.5px;top:395.63px;width:98.8px;height:13px;line-height:13px;font-size:10px;font-weight:400;color:#000;text-align:center;">4,52</div>
<div class="t" style="left:475.3px;top:395.63px;width:85.2px;height:13px;line-height:13px;font-size:10px;font-weight:400;color:#000;text-align:center;">22.2%</div>
<svg class="a" style="left:42px;top:414px;width:18px;height:18px" viewBox="0 0 100 100"><defs><clipPath id="cgma22"><circle cx="50" cy="50" r="50"/></clipPath></defs><g clip-path="url(#cgma22)"><rect width="100" height="100" fill="#c8242b"/><path d="M50 26L56 44H75L60 55L66 73L50 62L34 73L40 55L25 44H44Z" fill="none" stroke="#1f6e34" stroke-width="5"/><circle cx="50" cy="50" r="50" fill="url(#shade)"/><ellipse cx="50" cy="28" rx="34" ry="22" fill="url(#gloss)"/></g></svg>
<div class="t" style="left:62.5px;top:416.09px;width:400px;height:13px;line-height:13px;font-size:10px;font-weight:700;color:#000;text-align:left;letter-spacing:0.4px;">Morocco</div>
<div class="t" style="left:152.5px;top:417.19px;width:117.5px;height:13px;line-height:13px;font-size:10px;font-weight:400;color:#000;text-align:center;">128</div>
<div class="t" style="left:270px;top:417.19px;width:106.5px;height:13px;line-height:13px;font-size:10px;font-weight:400;color:#000;text-align:center;">11.3%</div>
<div class="t" style="left:376.5px;top:417.19px;width:98.8px;height:13px;line-height:13px;font-size:10px;font-weight:400;color:#000;text-align:center;">1,253</div>
<div class="t" style="left:475.3px;top:417.19px;width:85.2px;height:13px;line-height:13px;font-size:10px;font-weight:400;color:#000;text-align:center;">6.6%</div>
<svg class="a" style="left:41.5px;top:436px;width:18px;height:18px" viewBox="0 0 100 100"><defs><clipPath id="cgly23"><circle cx="50" cy="50" r="50"/></clipPath></defs><g clip-path="url(#cgly23)"><rect width="100" height="26" fill="#e0202a"/><rect y="26" width="100" height="48" fill="#111"/><rect y="74" width="100" height="26" fill="#239e46"/><circle cx="46" cy="50" r="12" fill="#fff"/><circle cx="50" cy="50" r="10" fill="#111"/><circle cx="62" cy="50" r="4" fill="#fff"/><circle cx="50" cy="50" r="50" fill="url(#shade)"/><ellipse cx="50" cy="28" rx="34" ry="22" fill="url(#gloss)"/></g></svg>
<div class="t" style="left:62.5px;top:438.04px;width:400px;height:13px;line-height:13px;font-size:10px;font-weight:700;color:#000;text-align:left;letter-spacing:0.4px;">Libya</div>
<div class="t" style="left:152.5px;top:439.14px;width:117.5px;height:13px;line-height:13px;font-size:10px;font-weight:400;color:#000;text-align:center;">80</div>
<div class="t" style="left:270px;top:439.14px;width:106.5px;height:13px;line-height:13px;font-size:10px;font-weight:400;color:#000;text-align:center;">-15.1%</div>
<div class="t" style="left:376.5px;top:439.14px;width:98.8px;height:13px;line-height:13px;font-size:10px;font-weight:400;color:#000;text-align:center;">932</div>
<div class="t" style="left:475.3px;top:439.14px;width:85.2px;height:13px;line-height:13px;font-size:10px;font-weight:400;color:#000;text-align:center;">39.8%</div>
<svg class="a" style="left:41.5px;top:457.5px;width:18px;height:18px" viewBox="0 0 100 100"><defs><clipPath id="cgtn24"><circle cx="50" cy="50" r="50"/></clipPath></defs><g clip-path="url(#cgtn24)"><rect width="100" height="100" fill="#e4252b"/><circle cx="50" cy="50" r="26" fill="#fff"/><circle cx="50" cy="50" r="18" fill="#e4252b"/><circle cx="56" cy="50" r="15" fill="#fff"/><circle cx="58" cy="50" r="5" fill="#e4252b"/><circle cx="50" cy="50" r="50" fill="url(#shade)"/><ellipse cx="50" cy="28" rx="34" ry="22" fill="url(#gloss)"/></g></svg>
<div class="t" style="left:62.5px;top:460.09px;width:400px;height:13px;line-height:13px;font-size:10px;font-weight:700;color:#000;text-align:left;letter-spacing:0.4px;">Tunisia</div>
<div class="t" style="left:152.5px;top:461.19px;width:117.5px;height:13px;line-height:13px;font-size:10px;font-weight:400;color:#000;text-align:center;">7</div>
<div class="t" style="left:270px;top:461.19px;width:106.5px;height:13px;line-height:13px;font-size:10px;font-weight:400;color:#000;text-align:center;">16.7%</div>
<div class="t" style="left:376.5px;top:461.19px;width:98.8px;height:13px;line-height:13px;font-size:10px;font-weight:400;color:#000;text-align:center;">65</div>
<div class="t" style="left:475.3px;top:461.19px;width:85.2px;height:13px;line-height:13px;font-size:10px;font-weight:400;color:#000;text-align:center;">8.3%</div>
<div class="t" style="left:17.5px;top:481.74px;width:135px;height:13px;line-height:13px;font-size:10px;font-weight:700;color:#0d1e3d;text-align:center;">Total</div>
<div class="t" style="left:152.5px;top:481.83px;width:117.5px;height:13px;line-height:13px;font-size:10px;font-weight:400;color:#0a0f1e;text-align:center;">1,631</div>
<div class="t" style="left:270px;top:481.83px;width:106.5px;height:13px;line-height:13px;font-size:10px;font-weight:400;color:#0a0f1e;text-align:center;">4.2%</div>
<div class="t" style="left:376.5px;top:481.83px;width:98.8px;height:13px;line-height:13px;font-size:10px;font-weight:400;color:#0a0f1e;text-align:center;">15,42</div>
<div class="t" style="left:475.3px;top:481.83px;width:85.2px;height:13px;line-height:13px;font-size:10px;font-weight:400;color:#0a0f1e;text-align:center;">6.3%</div>
<div class="a" style="left:17.3px;top:515.7px;width:543.2px;height:36.9px;background:linear-gradient(90deg, #1673c5 0%, #55a0dc 11.18%, #85bdea 24.85%, #97c9ef 46.52%, #b3dbf4 66.13%, #d6eefb 84.13%, #8bd0f3 84.5%, #3d93d3 95.29%, #0b58a8 100%)"></div>
<div class="a" style="left:17.3px;top:634.5px;width:543.2px;height:27.5px;background:linear-gradient(90deg, #1673c5 0%, #55a0dc 11.18%, #85bdea 24.85%, #97c9ef 46.52%, #b3dbf4 66.13%, #d6eefb 84.13%, #8bd0f3 84.5%, #3d93d3 95.29%, #0b58a8 100%)"></div>
<div class="a" style="left:17.3px;top:552.6px;width:543.2px;height:81.9px;background:#fff"></div>
<div class="a" style="left:16.55px;top:514.8px;width:544.7px;height:1.8px;background:#262626"></div>
<div class="a" style="left:16.55px;top:551.7px;width:544.7px;height:1.8px;background:#262626"></div>
<div class="a" style="left:16.55px;top:579.4px;width:544.7px;height:1.8px;background:#262626"></div>
<div class="a" style="left:16.55px;top:606.4px;width:544.7px;height:1.8px;background:#262626"></div>
<div class="a" style="left:16.55px;top:633.6px;width:544.7px;height:1.8px;background:#262626"></div>
<div class="a" style="left:16.55px;top:661.1px;width:544.7px;height:1.8px;background:#262626"></div>
<div class="a" style="left:16.55px;top:514.8px;width:1.5px;height:148.1px;background:#262626"></div>
<div class="a" style="left:151.55px;top:514.8px;width:1.5px;height:148.1px;background:#262626"></div>
<div class="a" style="left:269.25px;top:514.8px;width:1.5px;height:148.1px;background:#262626"></div>
<div class="a" style="left:375.75px;top:514.8px;width:1.5px;height:148.1px;background:#262626"></div>
<div class="a" style="left:474.55px;top:514.8px;width:1.5px;height:148.1px;background:#262626"></div>
<div class="a" style="left:559.75px;top:514.8px;width:1.5px;height:148.1px;background:#262626"></div>
<div class="t" style="left:7.3px;top:527.19px;width:155px;height:14.95px;line-height:14.95px;font-size:11.5px;font-weight:700;color:#0d1e3d;text-align:center;transform:scaleX(0.9);transform-origin:center center;">Country</div>
<div class="t" style="left:142.3px;top:527.19px;width:137.7px;height:14.95px;line-height:14.95px;font-size:11.5px;font-weight:700;color:#0d1e3d;text-align:center;transform:scaleX(0.9);transform-origin:center center;">October 25 (000 tons)</div>
<div class="t" style="left:260px;top:518.99px;width:126.5px;height:14.95px;line-height:14.95px;font-size:11.5px;font-weight:700;color:#0d1e3d;text-align:center;transform:scaleX(0.9);transform-origin:center center;">Change – October</div>
<div class="t" style="left:260px;top:533.79px;width:126.5px;height:14.95px;line-height:14.95px;font-size:11.5px;font-weight:700;color:#0d1e3d;text-align:center;transform:scaleX(0.9);transform-origin:center center;">24/25</div>
<div class="t" style="left:366.5px;top:518.99px;width:118.8px;height:14.95px;line-height:14.95px;font-size:11.5px;font-weight:700;color:#0d1e3d;text-align:center;transform:scaleX(0.9);transform-origin:center center;">Jan. – Oct. 2025</div>
<div class="t" style="left:366.5px;top:533.79px;width:118.8px;height:14.95px;line-height:14.95px;font-size:11.5px;font-weight:700;color:#0d1e3d;text-align:center;transform:scaleX(0.9);transform-origin:center center;">(000 tons)</div>
<div class="t" style="left:465.3px;top:527.19px;width:105.2px;height:14.95px;line-height:14.95px;font-size:11.5px;font-weight:700;color:#0d1e3d;text-align:center;transform:scaleX(0.9);transform-origin:center center;">Change – 24/25</div>
<svg class="a" style="left:40.7px;top:557.3px;width:19.2px;height:19.2px" viewBox="0 0 100 100"><defs><clipPath id="cgiq25"><circle cx="50" cy="50" r="50"/></clipPath></defs><g clip-path="url(#cgiq25)"><rect width="100" height="34" fill="#d9262b"/><rect y="34" width="100" height="33" fill="#fff"/><rect y="67" width="100" height="33" fill="#111"/><rect x="30" y="45" width="40" height="9" fill="#2a8a3e"/><circle cx="50" cy="50" r="50" fill="url(#shade)"/><ellipse cx="50" cy="28" rx="34" ry="22" fill="url(#gloss)"/></g></svg>
<div class="t" style="left:62.7px;top:560.29px;width:400px;height:14.95px;line-height:14.95px;font-size:11.5px;font-weight:700;color:#000;text-align:left;transform:scaleX(0.92);transform-origin:left center;">Iraq</div>
<div class="t" style="left:152.3px;top:559.89px;width:117.7px;height:14.95px;line-height:14.95px;font-size:11.5px;font-weight:400;color:#000;text-align:center;transform:scaleX(0.9);transform-origin:center center;">250</div>
<div class="t" style="left:270px;top:559.89px;width:106.5px;height:14.95px;line-height:14.95px;font-size:11.5px;font-weight:400;color:#000;text-align:center;transform:scaleX(0.9);transform-origin:center center;">0.0%</div>
<div class="t" style="left:376.5px;top:559.89px;width:98.8px;height:14.95px;line-height:14.95px;font-size:11.5px;font-weight:400;color:#000;text-align:center;transform:scaleX(0.9);transform-origin:center center;">2,515</div>
<div class="t" style="left:475.3px;top:559.89px;width:85.2px;height:14.95px;line-height:14.95px;font-size:11.5px;font-weight:400;color:#000;text-align:center;transform:scaleX(0.9);transform-origin:center center;">0.4%</div>
<svg class="a" style="left:40.7px;top:585px;width:19.2px;height:19.2px" viewBox="0 0 100 100"><defs><clipPath id="cgjo26"><circle cx="50" cy="50" r="50"/></clipPath></defs><g clip-path="url(#cgjo26)"><rect width="100" height="34" fill="#111"/><rect y="34" width="100" height="33" fill="#fff"/><rect y="67" width="100" height="33" fill="#1f8a3e"/><path d="M0 0L55 50L0 100Z" fill="#d62a2a"/><circle cx="20" cy="50" r="5" fill="#fff"/><circle cx="50" cy="50" r="50" fill="url(#shade)"/><ellipse cx="50" cy="28" rx="34" ry="22" fill="url(#gloss)"/></g></svg>
<div class="t" style="left:60.4px;top:587.64px;width:400px;height:14.95px;line-height:14.95px;font-size:11.5px;font-weight:700;color:#000;text-align:left;transform:scaleX(0.92);transform-origin:left center;">Jordon</div>
<div class="t" style="left:152.3px;top:587.24px;width:117.7px;height:14.95px;line-height:14.95px;font-size:11.5px;font-weight:400;color:#000;text-align:center;transform:scaleX(0.9);transform-origin:center center;">25</div>
<div class="t" style="left:270px;top:587.24px;width:106.5px;height:14.95px;line-height:14.95px;font-size:11.5px;font-weight:400;color:#000;text-align:center;transform:scaleX(0.9);transform-origin:center center;">0.0%</div>
<div class="t" style="left:376.5px;top:587.24px;width:98.8px;height:14.95px;line-height:14.95px;font-size:11.5px;font-weight:400;color:#000;text-align:center;transform:scaleX(0.9);transform-origin:center center;">250</div>
<div class="t" style="left:475.3px;top:587.24px;width:85.2px;height:14.95px;line-height:14.95px;font-size:11.5px;font-weight:400;color:#000;text-align:center;transform:scaleX(0.9);transform-origin:center center;">0.0%</div>
<svg class="a" style="left:40.7px;top:610.9px;width:19.2px;height:19.2px" viewBox="0 0 100 100"><defs><clipPath id="cgye27"><circle cx="50" cy="50" r="50"/></clipPath></defs><g clip-path="url(#cgye27)"><rect width="100" height="34" fill="#d9262b"/><rect y="34" width="100" height="33" fill="#fff"/><rect y="67" width="100" height="33" fill="#111"/><circle cx="50" cy="50" r="50" fill="url(#shade)"/><ellipse cx="50" cy="28" rx="34" ry="22" fill="url(#gloss)"/></g></svg>
<div class="t" style="left:60.4px;top:614.74px;width:400px;height:14.95px;line-height:14.95px;font-size:11.5px;font-weight:700;color:#000;text-align:left;transform:scaleX(0.92);transform-origin:left center;">Yemen</div>
<div class="t" style="left:152.3px;top:614.34px;width:117.7px;height:14.95px;line-height:14.95px;font-size:11.5px;font-weight:400;color:#000;text-align:center;transform:scaleX(0.9);transform-origin:center center;">7</div>
<div class="t" style="left:270px;top:614.34px;width:106.5px;height:14.95px;line-height:14.95px;font-size:11.5px;font-weight:400;color:#000;text-align:center;transform:scaleX(0.9);transform-origin:center center;">-22.2%</div>
<div class="t" style="left:376.5px;top:614.34px;width:98.8px;height:14.95px;line-height:14.95px;font-size:11.5px;font-weight:400;color:#000;text-align:center;transform:scaleX(0.9);transform-origin:center center;">79</div>
<div class="t" style="left:475.3px;top:614.34px;width:85.2px;height:14.95px;line-height:14.95px;font-size:11.5px;font-weight:400;color:#000;text-align:center;transform:scaleX(0.9);transform-origin:center center;">-9.2%</div>
<div class="t" style="left:17.3px;top:640.59px;width:135px;height:14.95px;line-height:14.95px;font-size:11.5px;font-weight:700;color:#0d1e3d;text-align:center;transform:scaleX(0.9);transform-origin:center center;">Total</div>
<div class="t" style="left:152.3px;top:640.69px;width:117.7px;height:14.95px;line-height:14.95px;font-size:11.5px;font-weight:400;color:#0a0f1e;text-align:center;transform:scaleX(0.9);transform-origin:center center;">282</div>
<div class="t" style="left:270px;top:640.69px;width:106.5px;height:14.95px;line-height:14.95px;font-size:11.5px;font-weight:400;color:#0a0f1e;text-align:center;transform:scaleX(0.9);transform-origin:center center;">-0.7%</div>
<div class="t" style="left:376.5px;top:640.69px;width:98.8px;height:14.95px;line-height:14.95px;font-size:11.5px;font-weight:400;color:#0a0f1e;text-align:center;transform:scaleX(0.9);transform-origin:center center;">2,844</div>
<div class="t" style="left:475.3px;top:640.69px;width:85.2px;height:14.95px;line-height:14.95px;font-size:11.5px;font-weight:400;color:#0a0f1e;text-align:center;transform:scaleX(0.9);transform-origin:center center;">0.1%</div>
<div class="a" style="left:611.25px;top:474.25px;width:555.5px;height:35.25px;background:linear-gradient(90deg, #1673c5 0%, #55a0dc 11.2%, #85bdea 24.89%, #97c9ef 46.44%, #b3dbf4 66.16%, #d6eefb 84.11%, #8bd0f3 84.47%, #3d93d3 95.29%, #0b58a8 100%)"></div>
<div class="a" style="left:611.25px;top:509.5px;width:555.5px;height:24.75px;background:#fff"></div>
<div class="a" style="left:610.5px;top:473.35px;width:557px;height:1.8px;background:#262626"></div>
<div class="a" style="left:610.5px;top:508.6px;width:557px;height:1.8px;background:#262626"></div>
<div class="a" style="left:610.5px;top:533.35px;width:557px;height:1.8px;background:#262626"></div>
<div class="a" style="left:610.5px;top:473.35px;width:1.5px;height:61.8px;background:#262626"></div>
<div class="a" style="left:748.75px;top:473.35px;width:1.5px;height:61.8px;background:#262626"></div>
<div class="a" style="left:868.5px;top:473.35px;width:1.5px;height:61.8px;background:#262626"></div>
<div class="a" style="left:978px;top:473.35px;width:1.5px;height:61.8px;background:#262626"></div>
<div class="a" style="left:1078.75px;top:473.35px;width:1.5px;height:61.8px;background:#262626"></div>
<div class="a" style="left:1166px;top:473.35px;width:1.5px;height:61.8px;background:#262626"></div>
<div class="t" style="left:739.5px;top:485.91px;width:139.75px;height:13.65px;line-height:13.65px;font-size:10.5px;font-weight:700;color:#0d1e3d;text-align:center;">October 25 (000 tons)</div>
<div class="t" style="left:859.25px;top:477.71px;width:129.5px;height:13.65px;line-height:13.65px;font-size:10.5px;font-weight:700;color:#0d1e3d;text-align:center;">Change – October</div>
<div class="t" style="left:859.25px;top:492.51px;width:129.5px;height:13.65px;line-height:13.65px;font-size:10.5px;font-weight:700;color:#0d1e3d;text-align:center;">24/25</div>
<div class="t" style="left:968.75px;top:477.71px;width:120.75px;height:13.65px;line-height:13.65px;font-size:10.5px;font-weight:700;color:#0d1e3d;text-align:center;">Jan. – Oct. 2025</div>
<div class="t" style="left:968.75px;top:492.51px;width:120.75px;height:13.65px;line-height:13.65px;font-size:10.5px;font-weight:700;color:#0d1e3d;text-align:center;">(000 tons)</div>
<div class="t" style="left:1069.5px;top:485.91px;width:107.25px;height:13.65px;line-height:13.65px;font-size:10.5px;font-weight:700;color:#0d1e3d;text-align:center;">Change – 24/25</div>
<div class="t" style="left:611.25px;top:516.41px;width:138.25px;height:13.65px;line-height:13.65px;font-size:10.5px;font-weight:700;color:#000;text-align:center;letter-spacing:0.3px;">Arab Countries</div>
<div class="t" style="left:749.5px;top:516.31px;width:119.75px;height:13.65px;line-height:13.65px;font-size:10.5px;font-weight:400;color:#000;text-align:center;">3,737</div>
<div class="t" style="left:869.25px;top:516.31px;width:109.5px;height:13.65px;line-height:13.65px;font-size:10.5px;font-weight:400;color:#000;text-align:center;">4.6%</div>
<div class="t" style="left:978.75px;top:516.31px;width:100.75px;height:13.65px;line-height:13.65px;font-size:10.5px;font-weight:400;color:#000;text-align:center;">36,048</div>
<div class="t" style="left:1079.5px;top:516.31px;width:87.25px;height:13.65px;line-height:13.65px;font-size:10.5px;font-weight:400;color:#000;text-align:center;">7.2%</div>
<div class="a" style="left:35.5px;top:687.5px;width:830px;height:1.2px;background:#7a92aa"></div>
<div class="a" style="left:850px;top:688px;width:350px;height:36.5px;background:#2a6bcf;border-bottom-left-radius:17px"></div>
<div class="t" style="left:764.5px;top:698.05px;width:400px;height:18.2px;line-height:18.2px;font-size:14px;font-weight:400;color:#fff;text-align:right;transform:scaleX(0.97);transform-origin:right center;">Source Arab Iron and Steel Union (AISU)</div>
<div class="a" style="left:0px;top:733px;width:1200px;height:4px;background:#f1f1f1"></div>
<svg class="a" style="left:0;top:0;width:1200px;height:737px;mix-blend-mode:darken" viewBox="0 0 1200 737"><g fill="none" stroke="#e6e6e6" stroke-width="2.2"><path d="M120.96 180.27 A10.50 10.50 0 1 1 124.94 170.90 L131.70 172.00 A17.20 17.20 0 1 0 125.09 185.55 L129.98 189.81 A23.60 23.60 0 1 1 138.10 172.41 L145.79 174.57"/><path d="M276.96 180.27 A10.50 10.50 0 1 1 280.94 170.90 L287.70 172.00 A17.20 17.20 0 1 0 281.09 185.55 L285.98 189.81 A23.60 23.60 0 1 1 294.10 172.41 L301.79 174.57"/><path d="M433.96 179.27 A10.50 10.50 0 1 1 437.94 169.90 L444.70 171.00 A17.20 17.20 0 1 0 438.09 184.55 L442.98 188.81 A23.60 23.60 0 1 1 451.10 171.41 L458.79 173.57"/><path d="M120.96 414.77 A10.50 10.50 0 1 1 124.94 405.40 L131.70 406.50 A17.20 17.20 0 1 0 125.09 420.05 L129.98 424.31 A23.60 23.60 0 1 1 138.10 406.91 L145.79 409.07"/><path d="M276.96 414.77 A10.50 10.50 0 1 1 280.94 405.40 L287.70 406.50 A17.20 17.20 0 1 0 281.09 420.05 L285.98 424.31 A23.60 23.60 0 1 1 294.10 406.91 L301.79 409.07"/><path d="M433.96 414.77 A10.50 10.50 0 1 1 437.94 405.40 L444.70 406.50 A17.20 17.20 0 1 0 438.09 420.05 L442.98 424.31 A23.60 23.60 0 1 1 451.10 406.91 L458.79 409.07"/><path d="M119.96 639.27 A10.50 10.50 0 1 1 123.94 629.90 L130.70 631.00 A17.20 17.20 0 1 0 124.09 644.55 L128.98 648.81 A23.60 23.60 0 1 1 137.10 631.41 L144.79 633.57"/><path d="M276.96 639.27 A10.50 10.50 0 1 1 280.94 629.90 L287.70 631.00 A17.20 17.20 0 1 0 281.09 644.55 L285.98 648.81 A23.60 23.60 0 1 1 294.10 631.41 L301.79 633.57"/><path d="M433.96 639.27 A10.50 10.50 0 1 1 437.94 629.90 L444.70 631.00 A17.20 17.20 0 1 0 438.09 644.55 L442.98 648.81 A23.60 23.60 0 1 1 451.10 631.41 L458.79 633.57"/><path d="M661.46 169.27 A10.50 10.50 0 1 1 665.44 159.90 L672.20 161.00 A17.20 17.20 0 1 0 665.59 174.55 L670.48 178.81 A23.60 23.60 0 1 1 678.60 161.41 L686.29 163.57"/><path d="M817.46 169.27 A10.50 10.50 0 1 1 821.44 159.90 L828.20 161.00 A17.20 17.20 0 1 0 821.59 174.55 L826.48 178.81 A23.60 23.60 0 1 1 834.60 161.41 L842.29 163.57"/><path d="M973.46 169.27 A10.50 10.50 0 1 1 977.44 159.90 L984.20 161.00 A17.20 17.20 0 1 0 977.59 174.55 L982.48 178.81 A23.60 23.60 0 1 1 990.60 161.41 L998.29 163.57"/><path d="M661.46 412.27 A10.50 10.50 0 1 1 665.44 402.90 L672.20 404.00 A17.20 17.20 0 1 0 665.59 417.55 L670.48 421.81 A23.60 23.60 0 1 1 678.60 404.41 L686.29 406.57"/><path d="M661.46 629.27 A10.50 10.50 0 1 1 665.44 619.90 L672.20 621.00 A17.20 17.20 0 1 0 665.59 634.55 L670.48 638.81 A23.60 23.60 0 1 1 678.60 621.41 L686.29 623.57"/><path d="M817.46 629.27 A10.50 10.50 0 1 1 821.44 619.90 L828.20 621.00 A17.20 17.20 0 1 0 821.59 634.55 L826.48 638.81 A23.60 23.60 0 1 1 834.60 621.41 L842.29 623.57"/><path d="M973.46 629.27 A10.50 10.50 0 1 1 977.44 619.90 L984.20 621.00 A17.20 17.20 0 1 0 977.59 634.55 L982.48 638.81 A23.60 23.60 0 1 1 990.60 621.41 L998.29 623.57"/></g></svg>
<div class="t" style="left:139.5px;top:133.7px;font-size:24px;line-height:28px;color:#e7e7e7;mix-blend-mode:darken;transform:rotate(-46.5deg);transform-origin:0 22.3px;letter-spacing:1.2px">SteelRadar</div>
<div class="t" style="left:295.5px;top:133.7px;font-size:24px;line-height:28px;color:#e7e7e7;mix-blend-mode:darken;transform:rotate(-46.5deg);transform-origin:0 22.3px;letter-spacing:1.2px">SteelRadar</div>
<div class="t" style="left:452.5px;top:132.7px;font-size:24px;line-height:28px;color:#e7e7e7;mix-blend-mode:darken;transform:rotate(-46.5deg);transform-origin:0 22.3px;letter-spacing:1.2px">SteelRadar</div>
<div class="t" style="left:139.5px;top:368.2px;font-size:24px;line-height:28px;color:#e7e7e7;mix-blend-mode:darken;transform:rotate(-46.5deg);transform-origin:0 22.3px;letter-spacing:1.2px">SteelRadar</div>
<div class="t" style="left:295.5px;top:368.2px;font-size:24px;line-height:28px;color:#e7e7e7;mix-blend-mode:darken;transform:rotate(-46.5deg);transform-origin:0 22.3px;letter-spacing:1.2px">SteelRadar</div>
<div class="t" style="left:452.5px;top:368.2px;font-size:24px;line-height:28px;color:#e7e7e7;mix-blend-mode:darken;transform:rotate(-46.5deg);transform-origin:0 22.3px;letter-spacing:1.2px">SteelRadar</div>
<div class="t" style="left:138.5px;top:592.7px;font-size:24px;line-height:28px;color:#e7e7e7;mix-blend-mode:darken;transform:rotate(-46.5deg);transform-origin:0 22.3px;letter-spacing:1.2px">SteelRadar</div>
<div class="t" style="left:295.5px;top:592.7px;font-size:24px;line-height:28px;color:#e7e7e7;mix-blend-mode:darken;transform:rotate(-46.5deg);transform-origin:0 22.3px;letter-spacing:1.2px">SteelRadar</div>
<div class="t" style="left:452.5px;top:592.7px;font-size:24px;line-height:28px;color:#e7e7e7;mix-blend-mode:darken;transform:rotate(-46.5deg);transform-origin:0 22.3px;letter-spacing:1.2px">SteelRadar</div>
<div class="t" style="left:680px;top:122.7px;font-size:24px;line-height:28px;color:#e7e7e7;mix-blend-mode:darken;transform:rotate(-46.5deg);transform-origin:0 22.3px;letter-spacing:1.2px">SteelRadar</div>
<div class="t" style="left:836px;top:122.7px;font-size:24px;line-height:28px;color:#e7e7e7;mix-blend-mode:darken;transform:rotate(-46.5deg);transform-origin:0 22.3px;letter-spacing:1.2px">SteelRadar</div>
<div class="t" style="left:992px;top:122.7px;font-size:24px;line-height:28px;color:#e7e7e7;mix-blend-mode:darken;transform:rotate(-46.5deg);transform-origin:0 22.3px;letter-spacing:1.2px">SteelRadar</div>
<div class="t" style="left:680px;top:365.7px;font-size:24px;line-height:28px;color:#e7e7e7;mix-blend-mode:darken;transform:rotate(-46.5deg);transform-origin:0 22.3px;letter-spacing:1.2px">SteelRadar</div>
<div class="t" style="left:680px;top:582.7px;font-size:24px;line-height:28px;color:#e7e7e7;mix-blend-mode:darken;transform:rotate(-46.5deg);transform-origin:0 22.3px;letter-spacing:1.2px">SteelRadar</div>
<div class="t" style="left:836px;top:582.7px;font-size:24px;line-height:28px;color:#e7e7e7;mix-blend-mode:darken;transform:rotate(-46.5deg);transform-origin:0 22.3px;letter-spacing:1.2px">SteelRadar</div>
<div class="t" style="left:992px;top:582.7px;font-size:24px;line-height:28px;color:#e7e7e7;mix-blend-mode:darken;transform:rotate(-46.5deg);transform-origin:0 22.3px;letter-spacing:1.2px">SteelRadar</div>
<div class="t" style="left:1161.3px;top:106.84px;width:20px;height:14.3px;line-height:14.3px;font-size:11px;font-weight:700;color:#111;text-align:left;">*t</div>
</body></html>
